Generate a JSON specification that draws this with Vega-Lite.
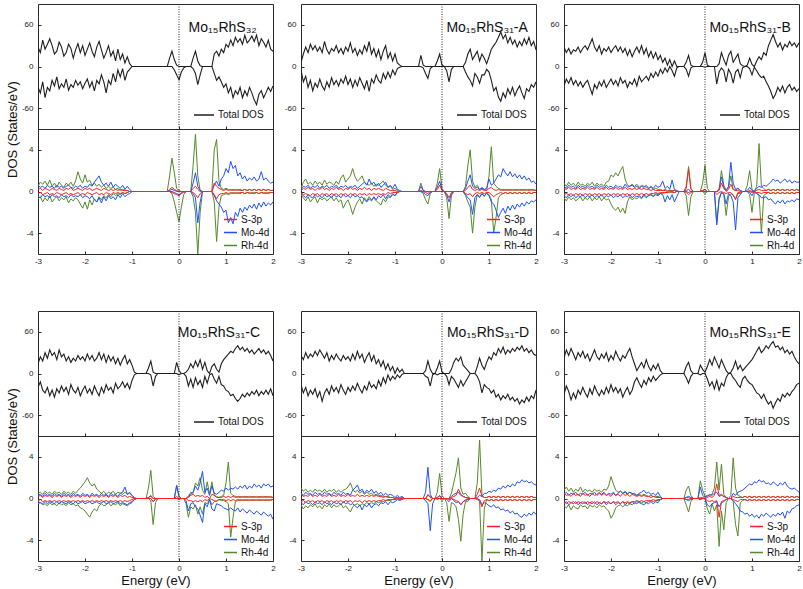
{
"$schema":"https://vega.github.io/schema/vega-lite/v6.json",
"background":"white",
"padding":{"left":5,"top":3,"right":2,"bottom":2},
"config":{
"font":"Liberation Sans",
"view":{"stroke":"#2b2b2b","strokeWidth":1},
"axis":{"domain":false,"grid":false,"tickSize":-3,"tickColor":"#2b2b2b","labelFontSize":8,"labelColor":"#222","labelFlush":false,"labelOverlap":false,"titleFontWeight":"normal","titleFontSize":13,"titleColor":"#111"},
"axisX":{"labelPadding":6},
"axisY":{"labelPadding":8},
"legend":{"labelFontSize":10,"labelColor":"#111","symbolType":"stroke","symbolStrokeWidth":1.5,"padding":0,"rowPadding":0,"labelOffset":3},
"rule":{"strokeDash":[1,1.5],"color":"#222"},
"text":{"fontSize":14,"align":"center","color":"#111"}
},
"datasets":{
"c32":[
{"e":-3,"tu":28,"td":-30,"su":0.2,"sd":-0.2,"mu":0.6,"md":-0.5,"ru":0.5,"rd":-0.7},
{"e":-2.95,"tu":20,"td":-38,"su":0.3,"sd":-0.1,"mu":0.4,"md":-0.6,"ru":0.9,"rd":-0.5},
{"e":-2.9,"tu":38,"td":-22,"su":0.1,"sd":-0.3,"mu":0.5,"md":-0.3,"ru":0.7,"rd":-1},
{"e":-2.85,"tu":25,"td":-45,"su":0.3,"sd":-0.2,"mu":0.3,"md":-0.5,"ru":1,"rd":-0.6},
{"e":-2.8,"tu":32,"td":-30,"su":0.2,"sd":-0.1,"mu":0.6,"md":-0.4,"ru":0.6,"rd":-0.9},
{"e":-2.75,"tu":40,"td":-35,"su":0.1,"sd":-0.3,"mu":0.4,"md":-0.6,"ru":1.1,"rd":-0.4},
{"e":-2.7,"tu":30,"td":-20,"su":0.3,"sd":-0.2,"mu":0.5,"md":-0.3,"ru":0.5,"rd":-1},
{"e":-2.65,"tu":18,"td":-28,"su":0.2,"sd":-0.3,"mu":0.3,"md":-0.5,"ru":0.8,"rd":-0.7},
{"e":-2.6,"tu":22,"td":-15,"su":0.1,"sd":-0.1,"mu":0.6,"md":-0.4,"ru":0.4,"rd":-0.5},
{"e":-2.55,"tu":35,"td":-32,"su":0.3,"sd":-0.2,"mu":0.4,"md":-0.6,"ru":0.9,"rd":-0.9},
{"e":-2.5,"tu":28,"td":-25,"su":0.2,"sd":-0.3,"mu":0.5,"md":-0.3,"ru":0.6,"rd":-0.6},
{"e":-2.45,"tu":15,"td":-30,"su":0.1,"sd":-0.2,"mu":0.3,"md":-0.5,"ru":0.4,"rd":-0.8},
{"e":-2.4,"tu":20,"td":-18,"su":0.3,"sd":-0.1,"mu":0.5,"md":-0.4,"ru":0.8,"rd":-0.5},
{"e":-2.35,"tu":32,"td":-34,"su":0.2,"sd":-0.3,"mu":0.6,"md":-0.6,"ru":0.6,"rd":-1.1},
{"e":-2.3,"tu":26,"td":-26,"su":0.4,"sd":-0.2,"mu":0.4,"md":-0.3,"ru":0.9,"rd":-0.7},
{"e":-2.25,"tu":12,"td":-30,"su":0.1,"sd":-0.3,"mu":0.3,"md":-0.5,"ru":0.5,"rd":-0.9},
{"e":-2.2,"tu":24,"td":-20,"su":0.2,"sd":-0.2,"mu":0.5,"md":-0.4,"ru":1,"rd":-0.6},
{"e":-2.15,"tu":33,"td":-27,"su":0.3,"sd":-0.1,"mu":0.4,"md":-0.5,"ru":1.9,"rd":-0.8},
{"e":-2.1,"tu":20,"td":-22,"su":0.2,"sd":-0.3,"mu":0.6,"md":-0.3,"ru":1.2,"rd":-1.2},
{"e":-2.05,"tu":30,"td":-32,"su":0.1,"sd":-0.2,"mu":0.3,"md":-0.6,"ru":0.8,"rd":-1.6},
{"e":-2,"tu":16,"td":-24,"su":0.3,"sd":-0.3,"mu":0.5,"md":-0.4,"ru":1.6,"rd":-1},
{"e":-1.95,"tu":25,"td":-18,"su":0.2,"sd":-0.1,"mu":0.4,"md":-0.5,"ru":0.9,"rd":-1.7},
{"e":-1.9,"tu":34,"td":-30,"su":0.3,"sd":-0.2,"mu":0.7,"md":-0.7,"ru":1.1,"rd":-0.8},
{"e":-1.85,"tu":22,"td":-22,"su":0.1,"sd":-0.3,"mu":0.5,"md":-0.4,"ru":0.6,"rd":-1.3},
{"e":-1.8,"tu":14,"td":-35,"su":0.2,"sd":-0.2,"mu":0.9,"md":-0.8,"ru":0.8,"rd":-0.7},
{"e":-1.75,"tu":28,"td":-20,"su":0.3,"sd":-0.1,"mu":1.2,"md":-1,"ru":0.5,"rd":-1},
{"e":-1.7,"tu":36,"td":-25,"su":0.2,"sd":-0.3,"mu":1.5,"md":-0.6,"ru":0.7,"rd":-0.5},
{"e":-1.65,"tu":24,"td":-12,"su":0.1,"sd":-0.2,"mu":0.9,"md":-1.1,"ru":0.4,"rd":-0.8},
{"e":-1.6,"tu":12,"td":-22,"su":0.3,"sd":-0.3,"mu":0.6,"md":-0.5,"ru":0.6,"rd":-0.4},
{"e":-1.55,"tu":20,"td":-38,"su":0.2,"sd":-0.1,"mu":0.8,"md":-0.9,"ru":0.3,"rd":-0.6},
{"e":-1.5,"tu":30,"td":-20,"su":0.1,"sd":-0.2,"mu":0.5,"md":-0.4,"ru":0.5,"rd":-0.3},
{"e":-1.45,"tu":15,"td":-26,"su":0.2,"sd":-0.3,"mu":0.9,"md":-0.7,"ru":0.3,"rd":-0.5},
{"e":-1.4,"tu":22,"td":-10,"su":0.1,"sd":-0.1,"mu":0.4,"md":-0.5,"ru":0.4,"rd":-0.2},
{"e":-1.35,"tu":8,"td":-22,"su":0.2,"sd":-0.2,"mu":0.7,"md":-0.8,"ru":0.2,"rd":-0.4},
{"e":-1.3,"tu":25,"td":-5,"su":0.1,"sd":-0.1,"mu":0.5,"md":-0.3,"ru":0.3,"rd":-0.2},
{"e":-1.25,"tu":10,"td":-15,"su":0.2,"sd":-0.2,"mu":0.3,"md":-0.6,"ru":0.1,"rd":-0.3},
{"e":-1.2,"tu":18,"td":-3,"su":0.1,"sd":-0.1,"mu":0.6,"md":-0.2,"ru":0.2,"rd":-0.1},
{"e":-1.15,"tu":5,"td":-20,"su":0.1,"sd":-0.2,"mu":0.2,"md":-0.5,"ru":0.1,"rd":-0.2},
{"e":-1.1,"tu":14,"td":-8,"su":0.1,"sd":-0.1,"mu":0.5,"md":-0.3,"ru":0.1,"rd":-0.1},
{"e":-1.05,"tu":4,"td":-4,"su":0,"sd":0,"mu":0.2,"md":-0.2,"ru":0,"rd":0},
{"e":-1,"tu":0,"td":0,"su":0,"sd":0,"mu":0,"md":0,"ru":0,"rd":0},
{"e":-0.25,"tu":0,"td":0,"su":0,"sd":0,"mu":0,"md":0,"ru":0,"rd":0},
{"e":-0.2,"tu":12,"td":0,"su":0.2,"sd":0,"mu":0.1,"md":0,"ru":1.5,"rd":0},
{"e":-0.15,"tu":22,"td":0,"su":0.4,"sd":-0.1,"mu":0.2,"md":0,"ru":3.2,"rd":-0.2},
{"e":-0.1,"tu":10,"td":-5,"su":0.2,"sd":-0.2,"mu":0.1,"md":-0.1,"ru":1.8,"rd":-1},
{"e":-0.05,"tu":2,"td":-12,"su":0.1,"sd":-0.3,"mu":0,"md":-0.2,"ru":0.3,"rd":-2},
{"e":0,"tu":0,"td":-19,"su":0,"sd":-0.4,"mu":0,"md":-0.3,"ru":0.1,"rd":-2.9},
{"e":0.05,"tu":0,"td":-8,"su":0,"sd":-0.2,"mu":0,"md":-0.1,"ru":0,"rd":-1.5},
{"e":0.1,"tu":0,"td":-2,"su":0,"sd":-0.1,"mu":0,"md":0,"ru":0,"rd":-0.3},
{"e":0.15,"tu":0,"td":0,"su":0,"sd":0,"mu":0,"md":0,"ru":0,"rd":0},
{"e":0.25,"tu":0,"td":0,"su":0,"sd":0,"mu":0,"md":0,"ru":0,"rd":0},
{"e":0.3,"tu":12,"td":-3,"su":0.3,"sd":-0.1,"mu":0.8,"md":-0.2,"ru":2.5,"rd":-0.5},
{"e":0.35,"tu":22,"td":-10,"su":0.5,"sd":-0.3,"mu":1.8,"md":-0.6,"ru":5.5,"rd":-2},
{"e":0.4,"tu":8,"td":-26,"su":0.2,"sd":-0.6,"mu":0.5,"md":-3,"ru":1.5,"rd":-6},
{"e":0.45,"tu":1,"td":-12,"su":0,"sd":-0.2,"mu":0.1,"md":-1,"ru":0.1,"rd":-2},
{"e":0.5,"tu":0,"td":0,"su":0,"sd":0,"mu":0,"md":0,"ru":0,"rd":0},
{"e":0.7,"tu":0,"td":0,"su":0,"sd":0,"mu":0,"md":0,"ru":0,"rd":0},
{"e":0.75,"tu":18,"td":-10,"su":0.8,"sd":-0.3,"mu":0.6,"md":-0.4,"ru":4,"rd":-1},
{"e":0.8,"tu":22,"td":-20,"su":0.5,"sd":-0.7,"mu":1,"md":-0.9,"ru":5,"rd":-4.8},
{"e":0.85,"tu":15,"td":-15,"su":0.3,"sd":-0.3,"mu":0.5,"md":-1.2,"ru":1,"rd":-1.5},
{"e":0.9,"tu":25,"td":-22,"su":0.2,"sd":-0.2,"mu":1.2,"md":-1.5,"ru":0.3,"rd":-0.4},
{"e":0.95,"tu":20,"td":-30,"su":0.1,"sd":-0.2,"mu":1.5,"md":-2,"ru":0.2,"rd":-0.3},
{"e":1,"tu":32,"td":-25,"su":0.2,"sd":-0.1,"mu":2.2,"md":-1.8,"ru":0.3,"rd":-0.2},
{"e":1.05,"tu":28,"td":-38,"su":0.1,"sd":-0.2,"mu":1.8,"md":-3,"ru":0.2,"rd":-0.3},
{"e":1.1,"tu":38,"td":-30,"su":0.2,"sd":-0.1,"mu":2.9,"md":-2.5,"ru":0.1,"rd":-0.2},
{"e":1.15,"tu":30,"td":-45,"su":0.1,"sd":-0.2,"mu":2.2,"md":-3.1,"ru":0.2,"rd":-0.1},
{"e":1.2,"tu":42,"td":-35,"su":0.2,"sd":-0.1,"mu":2.5,"md":-2,"ru":0.1,"rd":-0.2},
{"e":1.25,"tu":35,"td":-40,"su":0.1,"sd":-0.2,"mu":1.5,"md":-2.4,"ru":0.2,"rd":-0.1},
{"e":1.3,"tu":40,"td":-30,"su":0.2,"sd":-0.1,"mu":1.8,"md":-1.6,"ru":0.1,"rd":-0.2},
{"e":1.35,"tu":32,"td":-45,"su":0.1,"sd":-0.1,"mu":1.2,"md":-2,"ru":0.1,"rd":-0.1},
{"e":1.4,"tu":45,"td":-35,"su":0.2,"sd":-0.2,"mu":1.5,"md":-1.5,"ru":0.2,"rd":-0.2},
{"e":1.45,"tu":34,"td":-42,"su":0.1,"sd":-0.1,"mu":1,"md":-1.8,"ru":0.1,"rd":-0.1},
{"e":1.5,"tu":38,"td":-30,"su":0.2,"sd":-0.2,"mu":1.3,"md":-1.3,"ru":0.2,"rd":-0.1},
{"e":1.55,"tu":44,"td":-38,"su":0.1,"sd":-0.1,"mu":1.1,"md":-1.6,"ru":0.1,"rd":-0.2},
{"e":1.6,"tu":36,"td":-48,"su":0.2,"sd":-0.2,"mu":1.4,"md":-1.2,"ru":0.2,"rd":-0.1},
{"e":1.65,"tu":45,"td":-55,"su":0.1,"sd":-0.1,"mu":1,"md":-1.7,"ru":0.1,"rd":-0.1},
{"e":1.7,"tu":30,"td":-40,"su":0.2,"sd":-0.2,"mu":1.2,"md":-1.1,"ru":0.2,"rd":-0.2},
{"e":1.75,"tu":40,"td":-35,"su":0.1,"sd":-0.1,"mu":1.9,"md":-1.5,"ru":0.1,"rd":-0.1},
{"e":1.8,"tu":35,"td":-45,"su":0.2,"sd":-0.2,"mu":1.1,"md":-1,"ru":0.2,"rd":-0.1},
{"e":1.85,"tu":28,"td":-38,"su":0.1,"sd":-0.1,"mu":1.3,"md":-1.4,"ru":0.1,"rd":-0.2},
{"e":1.9,"tu":38,"td":-30,"su":0.2,"sd":-0.2,"mu":1,"md":-1.1,"ru":0.2,"rd":-0.1},
{"e":1.95,"tu":25,"td":-36,"su":0.1,"sd":-0.1,"mu":0.8,"md":-1.3,"ru":0.1,"rd":-0.1},
{"e":2,"tu":22,"td":-28,"su":0.1,"sd":-0.1,"mu":0.9,"md":-1,"ru":0.1,"rd":-0.1}
],
"A":[
{"e":-3,"tu":6,"td":-5,"su":0.1,"sd":-0.1,"mu":0.2,"md":-0.2,"ru":0.3,"rd":-0.3},
{"e":-2.95,"tu":18,"td":-22,"su":0.3,"sd":-0.3,"mu":0.5,"md":-0.4,"ru":0.9,"rd":-0.6},
{"e":-2.9,"tu":28,"td":-14,"su":0.2,"sd":-0.2,"mu":0.4,"md":-0.6,"ru":1.2,"rd":-0.9},
{"e":-2.85,"tu":20,"td":-30,"su":0.4,"sd":-0.3,"mu":0.6,"md":-0.3,"ru":0.7,"rd":-0.5},
{"e":-2.8,"tu":32,"td":-20,"su":0.2,"sd":-0.4,"mu":0.3,"md":-0.5,"ru":0.9,"rd":-1},
{"e":-2.75,"tu":24,"td":-35,"su":0.3,"sd":-0.2,"mu":0.5,"md":-0.6,"ru":0.6,"rd":-0.7},
{"e":-2.7,"tu":30,"td":-24,"su":0.1,"sd":-0.3,"mu":0.4,"md":-0.3,"ru":1,"rd":-0.5},
{"e":-2.65,"tu":22,"td":-30,"su":0.3,"sd":-0.2,"mu":0.6,"md":-0.5,"ru":0.7,"rd":-1.1},
{"e":-2.6,"tu":28,"td":-18,"su":0.2,"sd":-0.4,"mu":0.3,"md":-0.4,"ru":0.9,"rd":-0.6},
{"e":-2.55,"tu":20,"td":-28,"su":0.4,"sd":-0.2,"mu":0.5,"md":-0.6,"ru":0.6,"rd":-0.8},
{"e":-2.5,"tu":36,"td":-34,"su":0.2,"sd":-0.3,"mu":0.4,"md":-0.3,"ru":1.1,"rd":-0.6},
{"e":-2.45,"tu":24,"td":-22,"su":0.3,"sd":-0.2,"mu":0.6,"md":-0.5,"ru":0.7,"rd":-0.9},
{"e":-2.4,"tu":18,"td":-30,"su":0.1,"sd":-0.4,"mu":0.3,"md":-0.4,"ru":0.9,"rd":-0.7},
{"e":-2.35,"tu":26,"td":-16,"su":0.3,"sd":-0.2,"mu":0.5,"md":-0.6,"ru":0.8,"rd":-0.5},
{"e":-2.3,"tu":22,"td":-26,"su":0.2,"sd":-0.3,"mu":0.4,"md":-0.3,"ru":0.6,"rd":-0.9},
{"e":-2.25,"tu":30,"td":-20,"su":0.4,"sd":-0.2,"mu":0.6,"md":-0.5,"ru":1,"rd":-0.6},
{"e":-2.2,"tu":20,"td":-28,"su":0.2,"sd":-0.4,"mu":0.3,"md":-0.4,"ru":0.7,"rd":-1},
{"e":-2.15,"tu":26,"td":-18,"su":0.3,"sd":-0.2,"mu":0.5,"md":-0.6,"ru":1.3,"rd":-0.8},
{"e":-2.1,"tu":18,"td":-24,"su":0.1,"sd":-0.3,"mu":0.4,"md":-0.3,"ru":1.6,"rd":-1.6},
{"e":-2.05,"tu":28,"td":-14,"su":0.3,"sd":-0.2,"mu":0.6,"md":-0.5,"ru":0.9,"rd":-1.1},
{"e":-2,"tu":22,"td":-26,"su":0.2,"sd":-0.4,"mu":0.3,"md":-0.4,"ru":1.2,"rd":-0.8},
{"e":-1.95,"tu":34,"td":-18,"su":0.4,"sd":-0.2,"mu":0.5,"md":-0.6,"ru":1.5,"rd":-1.4},
{"e":-1.9,"tu":20,"td":-30,"su":0.2,"sd":-0.3,"mu":0.4,"md":-0.3,"ru":2.2,"rd":-2.2},
{"e":-1.85,"tu":26,"td":-20,"su":0.3,"sd":-0.2,"mu":0.6,"md":-0.5,"ru":1.4,"rd":-1.5},
{"e":-1.8,"tu":16,"td":-28,"su":0.1,"sd":-0.4,"mu":0.3,"md":-0.4,"ru":1,"rd":-1},
{"e":-1.75,"tu":24,"td":-16,"su":0.3,"sd":-0.2,"mu":0.5,"md":-0.6,"ru":1.2,"rd":-0.7},
{"e":-1.7,"tu":18,"td":-24,"su":0.2,"sd":-0.3,"mu":0.7,"md":-0.5,"ru":1.5,"rd":-1.2},
{"e":-1.65,"tu":30,"td":-32,"su":0.4,"sd":-0.2,"mu":0.9,"md":-0.8,"ru":0.9,"rd":-0.6},
{"e":-1.6,"tu":22,"td":-20,"su":0.2,"sd":-0.4,"mu":0.6,"md":-1,"ru":0.7,"rd":-0.9},
{"e":-1.55,"tu":36,"td":-36,"su":0.3,"sd":-0.2,"mu":1.2,"md":-0.7,"ru":0.6,"rd":-0.5},
{"e":-1.5,"tu":18,"td":-18,"su":0.1,"sd":-0.3,"mu":0.7,"md":-0.9,"ru":0.8,"rd":-0.8},
{"e":-1.45,"tu":26,"td":-24,"su":0.3,"sd":-0.2,"mu":0.9,"md":-0.5,"ru":0.5,"rd":-0.6},
{"e":-1.4,"tu":14,"td":-12,"su":0.2,"sd":-0.3,"mu":0.5,"md":-0.8,"ru":0.7,"rd":-0.9},
{"e":-1.35,"tu":24,"td":-20,"su":0.3,"sd":-0.2,"mu":0.8,"md":-0.4,"ru":0.6,"rd":-1.1},
{"e":-1.3,"tu":10,"td":-24,"su":0.2,"sd":-0.3,"mu":0.4,"md":-0.6,"ru":0.8,"rd":-1.3},
{"e":-1.25,"tu":22,"td":-10,"su":0.1,"sd":-0.2,"mu":0.6,"md":-0.3,"ru":1,"rd":-0.7},
{"e":-1.2,"tu":30,"td":-18,"su":0.3,"sd":-0.3,"mu":0.9,"md":-0.7,"ru":0.6,"rd":-1},
{"e":-1.15,"tu":12,"td":-8,"su":0.2,"sd":-0.1,"mu":0.4,"md":-0.3,"ru":0.4,"rd":-0.5},
{"e":-1.1,"tu":20,"td":-16,"su":0.1,"sd":-0.2,"mu":0.6,"md":-0.5,"ru":0.5,"rd":-0.6},
{"e":-1.05,"tu":8,"td":-5,"su":0.1,"sd":-0.1,"mu":0.3,"md":-0.2,"ru":0.2,"rd":-0.3},
{"e":-1,"tu":18,"td":-12,"su":0.1,"sd":-0.1,"mu":0.7,"md":-0.4,"ru":0.3,"rd":-0.4},
{"e":-0.95,"tu":5,"td":-3,"su":0,"sd":-0.1,"mu":0.2,"md":-0.1,"ru":0.1,"rd":-0.1},
{"e":-0.9,"tu":2,"td":-1,"su":0,"sd":0,"mu":0.1,"md":0,"ru":0,"rd":0},
{"e":-0.85,"tu":0,"td":0,"su":0,"sd":0,"mu":0,"md":0,"ru":0,"rd":0},
{"e":-0.5,"tu":0,"td":0,"su":0,"sd":0,"mu":0,"md":0,"ru":0,"rd":0},
{"e":-0.45,"tu":16,"td":0,"su":0.1,"sd":0,"mu":0.5,"md":0,"ru":0.8,"rd":0},
{"e":-0.4,"tu":2,"td":-2,"su":0,"sd":0,"mu":0.1,"md":-0.1,"ru":0.1,"rd":-0.2},
{"e":-0.35,"tu":0,"td":-10,"su":0,"sd":-0.1,"mu":0,"md":-0.3,"ru":0,"rd":-0.8},
{"e":-0.3,"tu":0,"td":-17,"su":0,"sd":-0.2,"mu":0,"md":-0.4,"ru":0,"rd":-1.2},
{"e":-0.25,"tu":0,"td":-3,"su":0,"sd":0,"mu":0,"md":-0.1,"ru":0,"rd":-0.2},
{"e":-0.2,"tu":0,"td":0,"su":0,"sd":0,"mu":0,"md":0,"ru":0,"rd":0},
{"e":-0.15,"tu":0,"td":0,"su":0,"sd":0,"mu":0,"md":0,"ru":0,"rd":0},
{"e":-0.1,"tu":8,"td":0,"su":0.2,"sd":0,"mu":0.4,"md":0,"ru":0.8,"rd":0},
{"e":-0.05,"tu":18,"td":0,"su":0.6,"sd":0,"mu":1,"md":0,"ru":2.2,"rd":0},
{"e":0,"tu":2,"td":0,"su":0.1,"sd":0,"mu":0.1,"md":0,"ru":0.3,"rd":0},
{"e":0.05,"tu":0,"td":0,"su":0,"sd":0,"mu":0,"md":0,"ru":0,"rd":0},
{"e":0.1,"tu":0,"td":-6,"su":0,"sd":-0.2,"mu":0,"md":-0.3,"ru":0,"rd":-0.6},
{"e":0.15,"tu":0,"td":-22,"su":0,"sd":-0.6,"mu":0,"md":-1,"ru":0,"rd":-2.6},
{"e":0.2,"tu":0,"td":-4,"su":0,"sd":-0.1,"mu":0,"md":-0.2,"ru":0,"rd":-0.4},
{"e":0.25,"tu":0,"td":0,"su":0,"sd":0,"mu":0,"md":0,"ru":0,"rd":0},
{"e":0.45,"tu":0,"td":0,"su":0,"sd":0,"mu":0,"md":0,"ru":0,"rd":0},
{"e":0.5,"tu":6,"td":-8,"su":0.1,"sd":-0.2,"mu":0.3,"md":-0.3,"ru":0.5,"rd":-0.4},
{"e":0.55,"tu":18,"td":-15,"su":0.4,"sd":-0.3,"mu":1,"md":-0.6,"ru":2.5,"rd":-1},
{"e":0.6,"tu":25,"td":-20,"su":0.6,"sd":-0.2,"mu":1.6,"md":-0.8,"ru":4,"rd":-1.5},
{"e":0.65,"tu":10,"td":-28,"su":0.2,"sd":-0.5,"mu":0.5,"md":-2.2,"ru":1,"rd":-4},
{"e":0.7,"tu":16,"td":-10,"su":0.1,"sd":-0.2,"mu":0.3,"md":-0.6,"ru":0.4,"rd":-1.5},
{"e":0.75,"tu":22,"td":-15,"su":0.2,"sd":-0.1,"mu":0.4,"md":-0.3,"ru":0.6,"rd":-0.3},
{"e":0.8,"tu":8,"td":-24,"su":0.1,"sd":-0.2,"mu":0.2,"md":-0.5,"ru":0.2,"rd":-0.6},
{"e":0.85,"tu":18,"td":-12,"su":0.2,"sd":-0.1,"mu":0.3,"md":-0.2,"ru":0.4,"rd":-0.2},
{"e":0.9,"tu":12,"td":-12,"su":0.1,"sd":-0.2,"mu":0.2,"md":-0.4,"ru":0.2,"rd":-0.5},
{"e":0.95,"tu":4,"td":-4,"su":0.1,"sd":-0.1,"mu":0.3,"md":-0.2,"ru":0.1,"rd":-0.1},
{"e":1,"tu":14,"td":-8,"su":0.3,"sd":-0.1,"mu":1.2,"md":-0.4,"ru":1.5,"rd":-0.3},
{"e":1.05,"tu":25,"td":-20,"su":0.4,"sd":-0.3,"mu":0.6,"md":-1,"ru":4.3,"rd":-0.8},
{"e":1.1,"tu":30,"td":-35,"su":0.2,"sd":-0.5,"mu":0.8,"md":-1.2,"ru":0.8,"rd":-4},
{"e":1.15,"tu":35,"td":-30,"su":0.1,"sd":-0.3,"mu":1.2,"md":-1.8,"ru":0.5,"rd":-2.5},
{"e":1.2,"tu":42,"td":-44,"su":0.2,"sd":-0.2,"mu":1.6,"md":-2.5,"ru":0.3,"rd":-0.6},
{"e":1.25,"tu":50,"td":-50,"su":0.1,"sd":-0.1,"mu":1.4,"md":-2,"ru":0.2,"rd":-0.3},
{"e":1.3,"tu":40,"td":-38,"su":0.2,"sd":-0.2,"mu":2.2,"md":-1.6,"ru":0.1,"rd":-0.2},
{"e":1.35,"tu":46,"td":-45,"su":0.1,"sd":-0.1,"mu":1.8,"md":-2.1,"ru":0.2,"rd":-0.1},
{"e":1.4,"tu":34,"td":-32,"su":0.2,"sd":-0.2,"mu":1.5,"md":-1.4,"ru":0.1,"rd":-0.2},
{"e":1.45,"tu":42,"td":-40,"su":0.1,"sd":-0.1,"mu":1.9,"md":-1.8,"ru":0.2,"rd":-0.1},
{"e":1.5,"tu":32,"td":-30,"su":0.2,"sd":-0.2,"mu":1.4,"md":-1.3,"ru":0.1,"rd":-0.2},
{"e":1.55,"tu":38,"td":-42,"su":0.1,"sd":-0.1,"mu":1.7,"md":-1.7,"ru":0.2,"rd":-0.1},
{"e":1.6,"tu":28,"td":-34,"su":0.2,"sd":-0.2,"mu":1.3,"md":-1.2,"ru":0.1,"rd":-0.2},
{"e":1.65,"tu":36,"td":-28,"su":0.1,"sd":-0.1,"mu":1.6,"md":-1.5,"ru":0.2,"rd":-0.1},
{"e":1.7,"tu":30,"td":-38,"su":0.2,"sd":-0.2,"mu":1.2,"md":-1.1,"ru":0.1,"rd":-0.2},
{"e":1.75,"tu":40,"td":-46,"su":0.1,"sd":-0.1,"mu":1.5,"md":-1.4,"ru":0.2,"rd":-0.1},
{"e":1.8,"tu":32,"td":-32,"su":0.2,"sd":-0.2,"mu":1.1,"md":-1,"ru":0.1,"rd":-0.2},
{"e":1.85,"tu":42,"td":-36,"su":0.1,"sd":-0.1,"mu":1.3,"md":-1.2,"ru":0.2,"rd":-0.1},
{"e":1.9,"tu":30,"td":-26,"su":0.2,"sd":-0.2,"mu":0.9,"md":-0.9,"ru":0.1,"rd":-0.2},
{"e":1.95,"tu":36,"td":-30,"su":0.1,"sd":-0.1,"mu":1,"md":-1,"ru":0.2,"rd":-0.1},
{"e":2,"tu":24,"td":-22,"su":0.1,"sd":-0.1,"mu":0.7,"md":-0.8,"ru":0.1,"rd":-0.1}
],
"B":[
{"e":-3,"tu":28,"td":-28,"su":0.3,"sd":-0.3,"mu":0.5,"md":-0.4,"ru":0.8,"rd":-0.6},
{"e":-2.95,"tu":20,"td":-18,"su":0.2,"sd":-0.2,"mu":0.3,"md":-0.6,"ru":0.5,"rd":-0.9},
{"e":-2.9,"tu":26,"td":-24,"su":0.4,"sd":-0.3,"mu":0.6,"md":-0.3,"ru":0.9,"rd":-0.5},
{"e":-2.85,"tu":18,"td":-16,"su":0.2,"sd":-0.2,"mu":0.4,"md":-0.5,"ru":0.6,"rd":-0.8},
{"e":-2.8,"tu":24,"td":-26,"su":0.3,"sd":-0.4,"mu":0.5,"md":-0.3,"ru":0.8,"rd":-0.6},
{"e":-2.75,"tu":22,"td":-20,"su":0.2,"sd":-0.2,"mu":0.3,"md":-0.6,"ru":0.5,"rd":-0.9},
{"e":-2.7,"tu":28,"td":-28,"su":0.4,"sd":-0.3,"mu":0.6,"md":-0.4,"ru":0.9,"rd":-0.7},
{"e":-2.65,"tu":20,"td":-22,"su":0.2,"sd":-0.2,"mu":0.4,"md":-0.5,"ru":0.6,"rd":-0.5},
{"e":-2.6,"tu":26,"td":-30,"su":0.3,"sd":-0.4,"mu":0.5,"md":-0.3,"ru":0.7,"rd":-0.9},
{"e":-2.55,"tu":30,"td":-24,"su":0.2,"sd":-0.2,"mu":0.3,"md":-0.6,"ru":0.5,"rd":-0.6},
{"e":-2.5,"tu":24,"td":-20,"su":0.4,"sd":-0.3,"mu":0.6,"md":-0.4,"ru":0.8,"rd":-0.8},
{"e":-2.45,"tu":32,"td":-30,"su":0.2,"sd":-0.2,"mu":0.4,"md":-0.5,"ru":0.6,"rd":-0.5},
{"e":-2.4,"tu":40,"td":-40,"su":0.3,"sd":-0.4,"mu":0.5,"md":-0.3,"ru":0.9,"rd":-0.9},
{"e":-2.35,"tu":28,"td":-26,"su":0.2,"sd":-0.2,"mu":0.3,"md":-0.6,"ru":0.5,"rd":-0.6},
{"e":-2.3,"tu":22,"td":-32,"su":0.4,"sd":-0.3,"mu":0.6,"md":-0.4,"ru":0.8,"rd":-0.8},
{"e":-2.25,"tu":30,"td":-22,"su":0.2,"sd":-0.2,"mu":0.4,"md":-0.5,"ru":0.6,"rd":-0.5},
{"e":-2.2,"tu":18,"td":-28,"su":0.3,"sd":-0.4,"mu":0.5,"md":-0.3,"ru":0.7,"rd":-0.9},
{"e":-2.15,"tu":26,"td":-20,"su":0.2,"sd":-0.2,"mu":0.3,"md":-0.6,"ru":0.5,"rd":-0.6},
{"e":-2.1,"tu":22,"td":-30,"su":0.4,"sd":-0.3,"mu":0.6,"md":-0.4,"ru":0.9,"rd":-0.8},
{"e":-2.05,"tu":28,"td":-24,"su":0.2,"sd":-0.2,"mu":0.4,"md":-0.5,"ru":1,"rd":-0.7},
{"e":-2,"tu":20,"td":-18,"su":0.3,"sd":-0.4,"mu":0.5,"md":-0.3,"ru":1.6,"rd":-1.2},
{"e":-1.95,"tu":26,"td":-26,"su":0.2,"sd":-0.2,"mu":0.3,"md":-0.6,"ru":1.4,"rd":-1.6},
{"e":-1.9,"tu":30,"td":-20,"su":0.4,"sd":-0.3,"mu":0.6,"md":-0.4,"ru":1.8,"rd":-1.8},
{"e":-1.85,"tu":22,"td":-28,"su":0.2,"sd":-0.2,"mu":0.4,"md":-0.5,"ru":1.5,"rd":-1.5},
{"e":-1.8,"tu":28,"td":-16,"su":0.3,"sd":-0.4,"mu":0.5,"md":-0.3,"ru":2,"rd":-2},
{"e":-1.75,"tu":20,"td":-24,"su":0.2,"sd":-0.2,"mu":0.3,"md":-0.6,"ru":2.4,"rd":-1.6},
{"e":-1.7,"tu":26,"td":-20,"su":0.4,"sd":-0.3,"mu":0.7,"md":-0.4,"ru":1.2,"rd":-2.1},
{"e":-1.65,"tu":16,"td":-30,"su":0.2,"sd":-0.2,"mu":0.4,"md":-0.5,"ru":0.6,"rd":-1},
{"e":-1.6,"tu":24,"td":-22,"su":0.3,"sd":-0.4,"mu":0.5,"md":-0.3,"ru":0.5,"rd":-0.5},
{"e":-1.55,"tu":14,"td":-26,"su":0.2,"sd":-0.2,"mu":0.6,"md":-0.6,"ru":0.7,"rd":-0.8},
{"e":-1.5,"tu":22,"td":-18,"su":0.3,"sd":-0.3,"mu":0.4,"md":-0.4,"ru":0.5,"rd":-0.6},
{"e":-1.45,"tu":28,"td":-28,"su":0.2,"sd":-0.2,"mu":0.5,"md":-0.5,"ru":0.7,"rd":-0.7},
{"e":-1.4,"tu":20,"td":-14,"su":0.3,"sd":-0.3,"mu":0.3,"md":-0.4,"ru":0.4,"rd":-0.5},
{"e":-1.35,"tu":30,"td":-22,"su":0.2,"sd":-0.2,"mu":0.5,"md":-0.6,"ru":0.6,"rd":-0.7},
{"e":-1.3,"tu":18,"td":-18,"su":0.3,"sd":-0.3,"mu":0.4,"md":-0.3,"ru":0.5,"rd":-0.4},
{"e":-1.25,"tu":26,"td":-14,"su":0.2,"sd":-0.2,"mu":0.6,"md":-0.5,"ru":0.4,"rd":-0.6},
{"e":-1.2,"tu":14,"td":-20,"su":0.2,"sd":-0.3,"mu":0.3,"md":-0.4,"ru":0.3,"rd":-0.4},
{"e":-1.15,"tu":22,"td":-10,"su":0.1,"sd":-0.2,"mu":0.5,"md":-0.3,"ru":0.4,"rd":-0.3},
{"e":-1.1,"tu":12,"td":-16,"su":0.2,"sd":-0.2,"mu":0.3,"md":-0.5,"ru":0.2,"rd":-0.4},
{"e":-1.05,"tu":20,"td":-8,"su":0.1,"sd":-0.1,"mu":0.6,"md":-0.3,"ru":0.3,"rd":-0.2},
{"e":-1,"tu":10,"td":-14,"su":0.1,"sd":-0.2,"mu":0.4,"md":-0.4,"ru":0.2,"rd":-0.3},
{"e":-0.95,"tu":16,"td":-4,"su":0.1,"sd":-0.1,"mu":0.5,"md":-0.2,"ru":0.2,"rd":-0.2},
{"e":-0.9,"tu":6,"td":-10,"su":0.1,"sd":-0.1,"mu":1,"md":-0.3,"ru":0.1,"rd":-0.2},
{"e":-0.85,"tu":12,"td":-2,"su":0.1,"sd":-0.1,"mu":0.3,"md":-1,"ru":0.2,"rd":-0.1},
{"e":-0.8,"tu":2,"td":-8,"su":0,"sd":-0.1,"mu":0.5,"md":-0.4,"ru":0.1,"rd":-0.1},
{"e":-0.75,"tu":10,"td":0,"su":0.1,"sd":0,"mu":0.2,"md":-0.8,"ru":0.1,"rd":-0.1},
{"e":-0.7,"tu":0,"td":-6,"su":0,"sd":-0.1,"mu":1.1,"md":-0.3,"ru":0.1,"rd":0},
{"e":-0.65,"tu":8,"td":-14,"su":0.1,"sd":-0.1,"mu":0.2,"md":-1,"ru":0.1,"rd":-0.1},
{"e":-0.6,"tu":0,"td":-2,"su":0,"sd":0,"mu":0.1,"md":-0.5,"ru":0,"rd":0},
{"e":-0.55,"tu":0,"td":0,"su":0,"sd":0,"mu":0,"md":0,"ru":0,"rd":0},
{"e":-0.45,"tu":0,"td":0,"su":0,"sd":0,"mu":0,"md":0,"ru":0,"rd":0},
{"e":-0.4,"tu":6,"td":-4,"su":0.3,"sd":-0.1,"mu":0.1,"md":0,"ru":0.5,"rd":-0.4},
{"e":-0.35,"tu":16,"td":-14,"su":2.1,"sd":-0.3,"mu":0.2,"md":-0.1,"ru":2.4,"rd":-2.3},
{"e":-0.3,"tu":2,"td":-2,"su":0.2,"sd":-0.1,"mu":0,"md":0,"ru":0.3,"rd":-0.5},
{"e":-0.25,"tu":0,"td":0,"su":0,"sd":0,"mu":0,"md":0,"ru":0,"rd":0},
{"e":-0.1,"tu":0,"td":0,"su":0,"sd":0,"mu":0,"md":0,"ru":0,"rd":0},
{"e":-0.05,"tu":6,"td":0,"su":0.1,"sd":0,"mu":0.1,"md":0,"ru":0.8,"rd":0},
{"e":0,"tu":20,"td":-1,"su":0.2,"sd":0,"mu":0.2,"md":0,"ru":2.5,"rd":-0.2},
{"e":0.05,"tu":2,"td":0,"su":0,"sd":0,"mu":0,"md":0,"ru":0.3,"rd":0},
{"e":0.1,"tu":0,"td":0,"su":0,"sd":0,"mu":0,"md":0,"ru":0,"rd":0},
{"e":0.2,"tu":0,"td":0,"su":0,"sd":0,"mu":0,"md":0,"ru":0,"rd":0},
{"e":0.25,"tu":0,"td":-25,"su":0,"sd":-0.3,"mu":0,"md":-3.2,"ru":0,"rd":-3},
{"e":0.3,"tu":4,"td":-8,"su":0.1,"sd":-0.1,"mu":0.2,"md":-0.8,"ru":0.2,"rd":-0.6},
{"e":0.35,"tu":20,"td":-2,"su":0.8,"sd":0,"mu":1.4,"md":-0.1,"ru":2,"rd":-0.1},
{"e":0.4,"tu":10,"td":-6,"su":0.3,"sd":-0.1,"mu":0.4,"md":-0.2,"ru":0.6,"rd":-0.3},
{"e":0.45,"tu":2,"td":-22,"su":0,"sd":-0.2,"mu":0.1,"md":-1.2,"ru":0.1,"rd":-2.3},
{"e":0.5,"tu":16,"td":-4,"su":0.2,"sd":-0.1,"mu":0.5,"md":-0.2,"ru":0.4,"rd":-0.5},
{"e":0.55,"tu":22,"td":-10,"su":0.7,"sd":-0.1,"mu":2.8,"md":-0.4,"ru":1.5,"rd":-0.2},
{"e":0.6,"tu":6,"td":-24,"su":0.2,"sd":-0.4,"mu":0.8,"md":-1,"ru":0.2,"rd":-0.3},
{"e":0.65,"tu":12,"td":-8,"su":0.1,"sd":-0.7,"mu":0.2,"md":-3.7,"ru":0.1,"rd":-0.8},
{"e":0.7,"tu":18,"td":-4,"su":0.1,"sd":-0.1,"mu":0.3,"md":-0.6,"ru":0.3,"rd":-0.2},
{"e":0.75,"tu":4,"td":-16,"su":0,"sd":-0.1,"mu":0.1,"md":-0.3,"ru":0.1,"rd":-0.2},
{"e":0.8,"tu":1,"td":-2,"su":0,"sd":0,"mu":0,"md":0,"ru":0,"rd":0},
{"e":0.85,"tu":0,"td":0,"su":0,"sd":0,"mu":0,"md":0,"ru":0,"rd":0},
{"e":0.9,"tu":2,"td":0,"su":0,"sd":0,"mu":0.1,"md":0,"ru":0.6,"rd":0},
{"e":0.95,"tu":12,"td":-3,"su":0.1,"sd":0,"mu":0.4,"md":-0.1,"ru":2,"rd":-0.3},
{"e":1,"tu":3,"td":-12,"su":0,"sd":-0.1,"mu":0.1,"md":-0.4,"ru":0.2,"rd":-2},
{"e":1.05,"tu":0,"td":-1,"su":0,"sd":0,"mu":0,"md":0,"ru":0,"rd":-0.1},
{"e":1.1,"tu":8,"td":-6,"su":0.1,"sd":-0.1,"mu":0.3,"md":-0.2,"ru":0.5,"rd":-0.2},
{"e":1.15,"tu":14,"td":-12,"su":0.2,"sd":-0.1,"mu":0.5,"md":-0.3,"ru":4.6,"rd":-0.4},
{"e":1.2,"tu":10,"td":-16,"su":0.1,"sd":-0.2,"mu":0.4,"md":-0.6,"ru":0.5,"rd":-4},
{"e":1.25,"tu":20,"td":-14,"su":0.1,"sd":-0.1,"mu":0.6,"md":-0.6,"ru":0.3,"rd":-0.4},
{"e":1.3,"tu":16,"td":-22,"su":0.1,"sd":-0.1,"mu":0.5,"md":-0.5,"ru":0.1,"rd":-0.2},
{"e":1.35,"tu":30,"td":-28,"su":0.2,"sd":-0.1,"mu":0.7,"md":-0.8,"ru":0.2,"rd":-0.1},
{"e":1.4,"tu":38,"td":-36,"su":0.1,"sd":-0.2,"mu":0.9,"md":-0.7,"ru":0.1,"rd":-0.2},
{"e":1.45,"tu":46,"td":-46,"su":0.2,"sd":-0.1,"mu":1.2,"md":-1,"ru":0.2,"rd":-0.1},
{"e":1.5,"tu":36,"td":-40,"su":0.1,"sd":-0.2,"mu":1,"md":-1.2,"ru":0.1,"rd":-0.2},
{"e":1.55,"tu":28,"td":-30,"su":0.2,"sd":-0.1,"mu":1.1,"md":-0.9,"ru":0.2,"rd":-0.1},
{"e":1.6,"tu":34,"td":-36,"su":0.1,"sd":-0.2,"mu":0.8,"md":-1.1,"ru":0.1,"rd":-0.2},
{"e":1.65,"tu":24,"td":-28,"su":0.2,"sd":-0.1,"mu":1,"md":-0.8,"ru":0.2,"rd":-0.1},
{"e":1.7,"tu":32,"td":-38,"su":0.1,"sd":-0.2,"mu":1.2,"md":-1.2,"ru":0.1,"rd":-0.2},
{"e":1.75,"tu":28,"td":-30,"su":0.2,"sd":-0.1,"mu":0.9,"md":-0.9,"ru":0.2,"rd":-0.1},
{"e":1.8,"tu":36,"td":-26,"su":0.1,"sd":-0.2,"mu":1.1,"md":-1,"ru":0.1,"rd":-0.2},
{"e":1.85,"tu":30,"td":-34,"su":0.2,"sd":-0.1,"mu":0.8,"md":-0.8,"ru":0.2,"rd":-0.1},
{"e":1.9,"tu":34,"td":-30,"su":0.1,"sd":-0.2,"mu":1,"md":-1,"ru":0.1,"rd":-0.2},
{"e":1.95,"tu":28,"td":-36,"su":0.2,"sd":-0.1,"mu":0.9,"md":-0.7,"ru":0.2,"rd":-0.1},
{"e":2,"tu":34,"td":-32,"su":0.1,"sd":-0.1,"mu":0.9,"md":-0.8,"ru":0.1,"rd":-0.1}
],
"C":[
{"e":-3,"tu":14,"td":-20,"su":0.2,"sd":-0.2,"mu":0.3,"md":-0.3,"ru":0.5,"rd":-0.5},
{"e":-2.95,"tu":24,"td":-12,"su":0.3,"sd":-0.1,"mu":0.4,"md":-0.4,"ru":0.6,"rd":-0.4},
{"e":-2.9,"tu":18,"td":-24,"su":0.1,"sd":-0.3,"mu":0.2,"md":-0.5,"ru":0.4,"rd":-0.6},
{"e":-2.85,"tu":30,"td":-28,"su":0.3,"sd":-0.2,"mu":0.5,"md":-0.3,"ru":0.7,"rd":-0.5},
{"e":-2.8,"tu":22,"td":-20,"su":0.2,"sd":-0.3,"mu":0.3,"md":-0.5,"ru":0.5,"rd":-0.7},
{"e":-2.75,"tu":34,"td":-32,"su":0.3,"sd":-0.2,"mu":0.4,"md":-0.3,"ru":0.6,"rd":-0.4},
{"e":-2.7,"tu":26,"td":-24,"su":0.1,"sd":-0.3,"mu":0.2,"md":-0.4,"ru":0.4,"rd":-0.6},
{"e":-2.65,"tu":30,"td":-34,"su":0.3,"sd":-0.2,"mu":0.5,"md":-0.5,"ru":0.7,"rd":-0.5},
{"e":-2.6,"tu":20,"td":-22,"su":0.2,"sd":-0.3,"mu":0.3,"md":-0.3,"ru":0.5,"rd":-0.7},
{"e":-2.55,"tu":34,"td":-28,"su":0.3,"sd":-0.2,"mu":0.4,"md":-0.5,"ru":0.6,"rd":-0.4},
{"e":-2.5,"tu":24,"td":-18,"su":0.1,"sd":-0.3,"mu":0.2,"md":-0.3,"ru":0.4,"rd":-0.6},
{"e":-2.45,"tu":28,"td":-26,"su":0.3,"sd":-0.2,"mu":0.5,"md":-0.4,"ru":0.7,"rd":-0.5},
{"e":-2.4,"tu":18,"td":-20,"su":0.2,"sd":-0.3,"mu":0.3,"md":-0.5,"ru":0.5,"rd":-0.7},
{"e":-2.35,"tu":24,"td":-30,"su":0.3,"sd":-0.2,"mu":0.4,"md":-0.3,"ru":0.6,"rd":-0.4},
{"e":-2.3,"tu":16,"td":-16,"su":0.1,"sd":-0.3,"mu":0.2,"md":-0.4,"ru":0.4,"rd":-0.6},
{"e":-2.25,"tu":22,"td":-24,"su":0.3,"sd":-0.2,"mu":0.5,"md":-0.5,"ru":0.7,"rd":-0.5},
{"e":-2.2,"tu":18,"td":-28,"su":0.2,"sd":-0.3,"mu":0.3,"md":-0.3,"ru":0.5,"rd":-0.7},
{"e":-2.15,"tu":26,"td":-20,"su":0.3,"sd":-0.2,"mu":0.4,"md":-0.5,"ru":0.8,"rd":-0.6},
{"e":-2.1,"tu":20,"td":-32,"su":0.1,"sd":-0.3,"mu":0.2,"md":-0.4,"ru":1,"rd":-0.9},
{"e":-2.05,"tu":24,"td":-24,"su":0.3,"sd":-0.2,"mu":0.5,"md":-0.3,"ru":1.3,"rd":-1},
{"e":-2,"tu":18,"td":-18,"su":0.2,"sd":-0.3,"mu":0.3,"md":-0.5,"ru":1.6,"rd":-1.2},
{"e":-1.95,"tu":28,"td":-28,"su":0.3,"sd":-0.2,"mu":0.4,"md":-0.4,"ru":2,"rd":-1.5},
{"e":-1.9,"tu":20,"td":-22,"su":0.1,"sd":-0.3,"mu":0.2,"md":-0.3,"ru":1.5,"rd":-1.8},
{"e":-1.85,"tu":26,"td":-30,"su":0.3,"sd":-0.2,"mu":0.5,"md":-0.5,"ru":1.2,"rd":-1.3},
{"e":-1.8,"tu":18,"td":-18,"su":0.2,"sd":-0.3,"mu":0.3,"md":-0.4,"ru":1.4,"rd":-1},
{"e":-1.75,"tu":22,"td":-26,"su":0.3,"sd":-0.2,"mu":0.4,"md":-0.3,"ru":0.9,"rd":-1.2},
{"e":-1.7,"tu":30,"td":-32,"su":0.1,"sd":-0.3,"mu":0.2,"md":-0.5,"ru":0.7,"rd":-0.7},
{"e":-1.65,"tu":20,"td":-20,"su":0.3,"sd":-0.2,"mu":0.5,"md":-0.4,"ru":0.5,"rd":-0.5},
{"e":-1.6,"tu":28,"td":-28,"su":0.2,"sd":-0.3,"mu":0.3,"md":-0.3,"ru":0.7,"rd":-0.7},
{"e":-1.55,"tu":16,"td":-16,"su":0.3,"sd":-0.2,"mu":0.4,"md":-0.5,"ru":0.4,"rd":-0.6},
{"e":-1.5,"tu":26,"td":-24,"su":0.1,"sd":-0.3,"mu":0.2,"md":-0.4,"ru":0.6,"rd":-0.4},
{"e":-1.45,"tu":18,"td":-20,"su":0.3,"sd":-0.2,"mu":0.5,"md":-0.3,"ru":0.5,"rd":-0.7},
{"e":-1.4,"tu":24,"td":-28,"su":0.2,"sd":-0.3,"mu":0.3,"md":-0.5,"ru":0.7,"rd":-0.5},
{"e":-1.35,"tu":14,"td":-14,"su":0.3,"sd":-0.2,"mu":0.4,"md":-0.4,"ru":0.4,"rd":-0.6},
{"e":-1.3,"tu":22,"td":-22,"su":0.1,"sd":-0.3,"mu":0.2,"md":-0.3,"ru":0.6,"rd":-0.4},
{"e":-1.25,"tu":12,"td":-18,"su":0.3,"sd":-0.2,"mu":0.5,"md":-0.5,"ru":0.5,"rd":-0.7},
{"e":-1.2,"tu":20,"td":-12,"su":0.2,"sd":-0.3,"mu":0.6,"md":-0.4,"ru":0.4,"rd":-0.5},
{"e":-1.15,"tu":26,"td":-20,"su":0.3,"sd":-0.2,"mu":1.1,"md":-0.5,"ru":0.6,"rd":-0.6},
{"e":-1.1,"tu":14,"td":-14,"su":0.1,"sd":-0.3,"mu":0.4,"md":-0.6,"ru":0.4,"rd":-0.7},
{"e":-1.05,"tu":20,"td":-22,"su":0.2,"sd":-0.2,"mu":0.6,"md":-0.4,"ru":0.5,"rd":-0.5},
{"e":-1,"tu":12,"td":-10,"su":0.1,"sd":-0.1,"mu":0.3,"md":-0.3,"ru":0.3,"rd":-0.4},
{"e":-0.95,"tu":2,"td":-2,"su":0,"sd":0,"mu":0.1,"md":-0.1,"ru":0,"rd":-0.1},
{"e":-0.9,"tu":0,"td":0,"su":0,"sd":0,"mu":0,"md":0,"ru":0,"rd":0},
{"e":-0.7,"tu":0,"td":0,"su":0,"sd":0,"mu":0,"md":0,"ru":0,"rd":0},
{"e":-0.65,"tu":8,"td":0,"su":0.1,"sd":0,"mu":0.1,"md":0,"ru":1,"rd":0},
{"e":-0.6,"tu":18,"td":-2,"su":0.3,"sd":0,"mu":0.2,"md":0,"ru":2.7,"rd":-0.2},
{"e":-0.55,"tu":2,"td":-18,"su":0,"sd":-0.3,"mu":0,"md":-0.3,"ru":0.2,"rd":-2.5},
{"e":-0.5,"tu":0,"td":-4,"su":0,"sd":0,"mu":0,"md":-0.1,"ru":0,"rd":-0.4},
{"e":-0.45,"tu":0,"td":0,"su":0,"sd":0,"mu":0,"md":0,"ru":0,"rd":0},
{"e":-0.1,"tu":0,"td":0,"su":0,"sd":0,"mu":0,"md":0,"ru":0,"rd":0},
{"e":-0.05,"tu":16,"td":0,"su":0.2,"sd":0,"mu":1.2,"md":0,"ru":1.3,"rd":0},
{"e":0,"tu":4,"td":-2,"su":0,"sd":0,"mu":0.2,"md":0,"ru":0.2,"rd":-0.1},
{"e":0.05,"tu":0,"td":0,"su":0,"sd":0,"mu":0,"md":0,"ru":0,"rd":0},
{"e":0.1,"tu":0,"td":0,"su":0,"sd":0,"mu":0,"md":0,"ru":0,"rd":0},
{"e":0.15,"tu":2,"td":-4,"su":0,"sd":0,"mu":0,"md":-0.2,"ru":0,"rd":-0.5},
{"e":0.2,"tu":6,"td":-18,"su":0.1,"sd":-0.2,"mu":0.2,"md":-1.2,"ru":0.2,"rd":-1.8},
{"e":0.25,"tu":14,"td":-8,"su":0.3,"sd":-0.2,"mu":0.4,"md":-0.5,"ru":0.6,"rd":-0.8},
{"e":0.3,"tu":8,"td":-20,"su":0.4,"sd":-0.3,"mu":0.6,"md":-0.4,"ru":0.5,"rd":-1},
{"e":0.35,"tu":18,"td":-6,"su":0.2,"sd":-0.2,"mu":1.2,"md":-0.8,"ru":1.5,"rd":-0.6},
{"e":0.4,"tu":10,"td":-16,"su":0.3,"sd":-0.3,"mu":0.8,"md":-1,"ru":1.2,"rd":-1.5},
{"e":0.45,"tu":20,"td":-10,"su":0.2,"sd":-0.2,"mu":1.5,"md":-1.6,"ru":2,"rd":-0.8},
{"e":0.5,"tu":6,"td":-20,"su":0.3,"sd":-0.3,"mu":2.6,"md":-2.3,"ru":0.8,"rd":-1.5},
{"e":0.55,"tu":16,"td":-4,"su":0.1,"sd":-0.1,"mu":0.6,"md":-0.5,"ru":0.4,"rd":-0.4},
{"e":0.6,"tu":4,"td":-14,"su":0.2,"sd":-0.2,"mu":1,"md":-0.8,"ru":1.6,"rd":-0.5},
{"e":0.65,"tu":0,"td":-2,"su":0,"sd":0,"mu":0.3,"md":-0.1,"ru":0.4,"rd":-0.1},
{"e":0.7,"tu":10,"td":0,"su":0.4,"sd":-0.1,"mu":1.2,"md":-1,"ru":1.6,"rd":-0.6},
{"e":0.75,"tu":14,"td":-8,"su":0.3,"sd":-0.2,"mu":0.5,"md":-1.2,"ru":0.3,"rd":-0.3},
{"e":0.8,"tu":6,"td":-14,"su":0.1,"sd":-0.3,"mu":0.4,"md":-0.5,"ru":0.2,"rd":-0.2},
{"e":0.85,"tu":2,"td":-4,"su":0.1,"sd":-0.1,"mu":0.6,"md":-0.6,"ru":0.1,"rd":-0.1},
{"e":0.9,"tu":14,"td":-16,"su":0.1,"sd":-0.1,"mu":0.8,"md":-0.7,"ru":0.2,"rd":-0.2},
{"e":0.95,"tu":20,"td":-18,"su":0.2,"sd":-0.1,"mu":0.7,"md":-0.9,"ru":0.3,"rd":-0.2},
{"e":1,"tu":24,"td":-24,"su":0.1,"sd":-0.2,"mu":1,"md":-1,"ru":1.5,"rd":-0.3},
{"e":1.05,"tu":28,"td":-26,"su":0.2,"sd":-0.1,"mu":0.8,"md":-1.1,"ru":3.5,"rd":-0.5},
{"e":1.1,"tu":32,"td":-32,"su":0.1,"sd":-0.2,"mu":1,"md":-0.9,"ru":0.5,"rd":-3.7},
{"e":1.15,"tu":30,"td":-30,"su":0.2,"sd":-0.1,"mu":0.9,"md":-1.1,"ru":0.3,"rd":-1.8},
{"e":1.2,"tu":36,"td":-36,"su":0.1,"sd":-0.2,"mu":1.1,"md":-1.2,"ru":0.2,"rd":-0.3},
{"e":1.25,"tu":40,"td":-40,"su":0.2,"sd":-0.1,"mu":0.9,"md":-0.9,"ru":0.1,"rd":-0.2},
{"e":1.3,"tu":34,"td":-36,"su":0.1,"sd":-0.2,"mu":1.2,"md":-1.3,"ru":0.2,"rd":-0.1},
{"e":1.35,"tu":38,"td":-30,"su":0.2,"sd":-0.1,"mu":1,"md":-1,"ru":0.1,"rd":-0.2},
{"e":1.4,"tu":32,"td":-34,"su":0.1,"sd":-0.2,"mu":1.3,"md":-1.2,"ru":0.2,"rd":-0.1},
{"e":1.45,"tu":36,"td":-28,"su":0.2,"sd":-0.1,"mu":0.9,"md":-1.4,"ru":0.1,"rd":-0.2},
{"e":1.5,"tu":30,"td":-32,"su":0.1,"sd":-0.2,"mu":1.2,"md":-1.1,"ru":0.2,"rd":-0.1},
{"e":1.55,"tu":34,"td":-26,"su":0.2,"sd":-0.1,"mu":1,"md":-1.3,"ru":0.1,"rd":-0.2},
{"e":1.6,"tu":28,"td":-30,"su":0.1,"sd":-0.2,"mu":1.4,"md":-1.5,"ru":0.2,"rd":-0.1},
{"e":1.65,"tu":32,"td":-24,"su":0.2,"sd":-0.1,"mu":1.1,"md":-1.2,"ru":0.1,"rd":-0.2},
{"e":1.7,"tu":36,"td":-32,"su":0.1,"sd":-0.2,"mu":1.3,"md":-1.4,"ru":0.2,"rd":-0.1},
{"e":1.75,"tu":30,"td":-26,"su":0.2,"sd":-0.1,"mu":1,"md":-1.6,"ru":0.1,"rd":-0.2},
{"e":1.8,"tu":34,"td":-30,"su":0.1,"sd":-0.2,"mu":1.4,"md":-1.3,"ru":0.2,"rd":-0.1},
{"e":1.85,"tu":28,"td":-24,"su":0.2,"sd":-0.1,"mu":1.2,"md":-1.5,"ru":0.1,"rd":-0.2},
{"e":1.9,"tu":32,"td":-30,"su":0.1,"sd":-0.2,"mu":1.4,"md":-1.7,"ru":0.2,"rd":-0.1},
{"e":1.95,"tu":26,"td":-22,"su":0.2,"sd":-0.1,"mu":1.1,"md":-1.5,"ru":0.1,"rd":-0.2},
{"e":2,"tu":18,"td":-32,"su":0.1,"sd":-0.1,"mu":1.2,"md":-2,"ru":0.1,"rd":-0.1}
],
"D":[
{"e":-3,"tu":26,"td":-16,"su":0.4,"sd":-0.3,"mu":0.5,"md":-0.4,"ru":1,"rd":-0.6},
{"e":-2.95,"tu":20,"td":-28,"su":0.2,"sd":-0.2,"mu":0.3,"md":-0.6,"ru":0.7,"rd":-1},
{"e":-2.9,"tu":30,"td":-20,"su":0.3,"sd":-0.4,"mu":0.6,"md":-0.3,"ru":0.9,"rd":-0.7},
{"e":-2.85,"tu":22,"td":-32,"su":0.2,"sd":-0.2,"mu":0.4,"md":-0.5,"ru":0.6,"rd":-0.9},
{"e":-2.8,"tu":28,"td":-24,"su":0.4,"sd":-0.3,"mu":0.5,"md":-0.4,"ru":0.8,"rd":-0.6},
{"e":-2.75,"tu":24,"td":-30,"su":0.2,"sd":-0.2,"mu":0.3,"md":-0.6,"ru":0.6,"rd":-0.8},
{"e":-2.7,"tu":32,"td":-22,"su":0.3,"sd":-0.4,"mu":0.6,"md":-0.3,"ru":0.9,"rd":-0.5},
{"e":-2.65,"tu":26,"td":-34,"su":0.2,"sd":-0.2,"mu":0.4,"md":-0.5,"ru":0.7,"rd":-0.9},
{"e":-2.6,"tu":34,"td":-26,"su":0.4,"sd":-0.3,"mu":0.5,"md":-0.4,"ru":0.8,"rd":-0.7},
{"e":-2.55,"tu":28,"td":-40,"su":0.2,"sd":-0.2,"mu":0.3,"md":-0.6,"ru":0.6,"rd":-1},
{"e":-2.5,"tu":22,"td":-28,"su":0.3,"sd":-0.4,"mu":0.6,"md":-0.3,"ru":0.9,"rd":-0.6},
{"e":-2.45,"tu":30,"td":-22,"su":0.2,"sd":-0.2,"mu":0.4,"md":-0.5,"ru":0.6,"rd":-0.8},
{"e":-2.4,"tu":18,"td":-30,"su":0.4,"sd":-0.3,"mu":0.5,"md":-0.4,"ru":0.8,"rd":-0.5},
{"e":-2.35,"tu":26,"td":-18,"su":0.2,"sd":-0.2,"mu":0.3,"md":-0.6,"ru":0.7,"rd":-0.9},
{"e":-2.3,"tu":20,"td":-26,"su":0.3,"sd":-0.4,"mu":0.6,"md":-0.3,"ru":0.9,"rd":-0.6},
{"e":-2.25,"tu":28,"td":-20,"su":0.2,"sd":-0.2,"mu":0.4,"md":-0.5,"ru":0.6,"rd":-0.8},
{"e":-2.2,"tu":22,"td":-28,"su":0.4,"sd":-0.3,"mu":0.5,"md":-0.4,"ru":0.8,"rd":-0.7},
{"e":-2.15,"tu":18,"td":-16,"su":0.2,"sd":-0.2,"mu":0.3,"md":-0.6,"ru":0.6,"rd":-0.5},
{"e":-2.1,"tu":26,"td":-24,"su":0.3,"sd":-0.4,"mu":0.6,"md":-0.3,"ru":0.8,"rd":-0.9},
{"e":-2.05,"tu":20,"td":-30,"su":0.2,"sd":-0.2,"mu":0.4,"md":-0.5,"ru":0.9,"rd":-0.7},
{"e":-2,"tu":24,"td":-20,"su":0.4,"sd":-0.3,"mu":0.5,"md":-0.4,"ru":1.1,"rd":-1},
{"e":-1.95,"tu":18,"td":-26,"su":0.2,"sd":-0.2,"mu":0.3,"md":-0.6,"ru":1.5,"rd":-1.3},
{"e":-1.9,"tu":28,"td":-18,"su":0.3,"sd":-0.4,"mu":0.8,"md":-0.5,"ru":0.9,"rd":-0.8},
{"e":-1.85,"tu":20,"td":-24,"su":0.2,"sd":-0.2,"mu":1,"md":-0.7,"ru":0.6,"rd":-0.6},
{"e":-1.8,"tu":32,"td":-14,"su":0.4,"sd":-0.3,"mu":1.3,"md":-0.9,"ru":0.8,"rd":-0.5},
{"e":-1.75,"tu":22,"td":-22,"su":0.2,"sd":-0.2,"mu":0.7,"md":-0.6,"ru":0.5,"rd":-0.7},
{"e":-1.7,"tu":28,"td":-28,"su":0.3,"sd":-0.4,"mu":0.9,"md":-1.1,"ru":0.7,"rd":-0.5},
{"e":-1.65,"tu":16,"td":-18,"su":0.2,"sd":-0.2,"mu":0.5,"md":-0.6,"ru":0.4,"rd":-0.6},
{"e":-1.6,"tu":24,"td":-24,"su":0.3,"sd":-0.3,"mu":0.8,"md":-0.8,"ru":0.6,"rd":-0.4},
{"e":-1.55,"tu":30,"td":-12,"su":0.2,"sd":-0.2,"mu":0.6,"md":-0.5,"ru":0.4,"rd":-0.5},
{"e":-1.5,"tu":18,"td":-20,"su":0.3,"sd":-0.3,"mu":0.9,"md":-0.9,"ru":0.5,"rd":-0.4},
{"e":-1.45,"tu":26,"td":-16,"su":0.2,"sd":-0.2,"mu":0.5,"md":-0.6,"ru":0.3,"rd":-0.5},
{"e":-1.4,"tu":14,"td":-22,"su":0.3,"sd":-0.3,"mu":0.7,"md":-0.5,"ru":0.4,"rd":-0.3},
{"e":-1.35,"tu":20,"td":-10,"su":0.2,"sd":-0.2,"mu":0.4,"md":-0.7,"ru":0.3,"rd":-0.4},
{"e":-1.3,"tu":10,"td":-18,"su":0.2,"sd":-0.2,"mu":0.6,"md":-0.4,"ru":0.3,"rd":-0.3},
{"e":-1.25,"tu":18,"td":-6,"su":0.1,"sd":-0.1,"mu":0.3,"md":-0.5,"ru":0.2,"rd":-0.3},
{"e":-1.2,"tu":6,"td":-14,"su":0.2,"sd":-0.2,"mu":0.5,"md":-0.3,"ru":0.2,"rd":-0.2},
{"e":-1.15,"tu":14,"td":-2,"su":0.1,"sd":-0.1,"mu":0.3,"md":-0.6,"ru":0.2,"rd":-0.2},
{"e":-1.1,"tu":4,"td":-10,"su":0.1,"sd":-0.1,"mu":0.4,"md":-0.3,"ru":0.1,"rd":-0.2},
{"e":-1.05,"tu":10,"td":-4,"su":0.1,"sd":-0.1,"mu":0.3,"md":-0.4,"ru":0.1,"rd":-0.1},
{"e":-1,"tu":0,"td":-8,"su":0,"sd":-0.1,"mu":0.1,"md":-0.3,"ru":0,"rd":-0.1},
{"e":-0.95,"tu":8,"td":-2,"su":0.1,"sd":0,"mu":0.3,"md":-0.1,"ru":0.1,"rd":0},
{"e":-0.9,"tu":2,"td":-6,"su":0,"sd":-0.1,"mu":0.1,"md":-0.2,"ru":0,"rd":-0.1},
{"e":-0.85,"tu":6,"td":-1,"su":0,"sd":0,"mu":0.2,"md":-0.1,"ru":0.1,"rd":0},
{"e":-0.8,"tu":0,"td":0,"su":0,"sd":0,"mu":0,"md":0,"ru":0,"rd":0},
{"e":-0.4,"tu":0,"td":0,"su":0,"sd":0,"mu":0,"md":0,"ru":0,"rd":0},
{"e":-0.35,"tu":4,"td":-4,"su":0,"sd":0,"mu":0.6,"md":-0.2,"ru":0,"rd":0},
{"e":-0.3,"tu":18,"td":-6,"su":0.4,"sd":-0.1,"mu":3,"md":-0.5,"ru":0.3,"rd":-0.1},
{"e":-0.25,"tu":6,"td":-18,"su":0.1,"sd":-0.3,"mu":0.4,"md":-3.1,"ru":0.2,"rd":-0.2},
{"e":-0.2,"tu":0,"td":-2,"su":0,"sd":0,"mu":0,"md":-0.5,"ru":0,"rd":0},
{"e":-0.15,"tu":0,"td":0,"su":0,"sd":0,"mu":0,"md":0,"ru":0,"rd":0},
{"e":-0.1,"tu":8,"td":-2,"su":0.1,"sd":0,"mu":0.1,"md":0,"ru":0.6,"rd":-0.1},
{"e":-0.05,"tu":18,"td":0,"su":0.2,"sd":0,"mu":0.3,"md":0,"ru":2.4,"rd":0},
{"e":0,"tu":2,"td":0,"su":0,"sd":0,"mu":0,"md":0,"ru":0.3,"rd":-0.2},
{"e":0.05,"tu":0,"td":0,"su":0,"sd":0,"mu":0,"md":0,"ru":0,"rd":0},
{"e":0.1,"tu":0,"td":-4,"su":0,"sd":0,"mu":0,"md":-0.1,"ru":0,"rd":-0.4},
{"e":0.15,"tu":0,"td":-16,"su":0,"sd":-0.1,"mu":0,"md":-0.3,"ru":0,"rd":-2.2},
{"e":0.2,"tu":6,"td":-4,"su":0.1,"sd":0,"mu":0.2,"md":0,"ru":0.5,"rd":-0.4},
{"e":0.25,"tu":16,"td":-8,"su":0.2,"sd":-0.1,"mu":0.4,"md":-0.2,"ru":1.5,"rd":-0.5},
{"e":0.3,"tu":22,"td":-14,"su":0.3,"sd":-0.2,"mu":0.5,"md":-0.4,"ru":2.5,"rd":-0.8},
{"e":0.35,"tu":18,"td":-20,"su":0.9,"sd":-0.3,"mu":0.6,"md":-0.3,"ru":3.9,"rd":-2},
{"e":0.4,"tu":24,"td":-10,"su":0.4,"sd":-0.6,"mu":0.3,"md":-0.6,"ru":1,"rd":-4.1},
{"e":0.45,"tu":12,"td":-18,"su":0.2,"sd":-0.3,"mu":0.2,"md":-0.3,"ru":0.4,"rd":-1.5},
{"e":0.5,"tu":8,"td":-12,"su":0.1,"sd":-0.1,"mu":0.1,"md":-0.2,"ru":0.5,"rd":-0.3},
{"e":0.55,"tu":4,"td":-6,"su":0,"sd":-0.1,"mu":0.1,"md":-0.1,"ru":0.2,"rd":-0.3},
{"e":0.6,"tu":0,"td":0,"su":0,"sd":0,"mu":0,"md":0,"ru":0,"rd":0},
{"e":0.7,"tu":0,"td":0,"su":0,"sd":0,"mu":0,"md":0,"ru":0,"rd":0},
{"e":0.75,"tu":10,"td":-4,"su":0.4,"sd":0,"mu":0.1,"md":0,"ru":1.5,"rd":-0.1},
{"e":0.8,"tu":22,"td":-12,"su":1,"sd":-0.2,"mu":0.3,"md":-0.1,"ru":5.6,"rd":-0.3},
{"e":0.85,"tu":12,"td":-28,"su":0.2,"sd":-0.8,"mu":0.2,"md":-0.6,"ru":0.3,"rd":-6},
{"e":0.9,"tu":6,"td":-16,"su":0.1,"sd":-0.2,"mu":0.5,"md":-0.4,"ru":0.1,"rd":-1},
{"e":0.95,"tu":16,"td":-20,"su":0.1,"sd":-0.1,"mu":0.5,"md":-0.5,"ru":0.1,"rd":-0.1},
{"e":1,"tu":24,"td":-22,"su":0.2,"sd":-0.2,"mu":0.7,"md":-0.7,"ru":0.2,"rd":-0.2},
{"e":1.05,"tu":20,"td":-28,"su":0.1,"sd":-0.1,"mu":0.6,"md":-0.8,"ru":0.1,"rd":-0.1},
{"e":1.1,"tu":30,"td":-24,"su":0.2,"sd":-0.2,"mu":0.8,"md":-0.6,"ru":0.2,"rd":-0.2},
{"e":1.15,"tu":26,"td":-34,"su":0.1,"sd":-0.1,"mu":0.7,"md":-0.9,"ru":0.1,"rd":-0.1},
{"e":1.2,"tu":36,"td":-30,"su":0.2,"sd":-0.2,"mu":1,"md":-0.8,"ru":0.2,"rd":-0.2},
{"e":1.25,"tu":30,"td":-38,"su":0.1,"sd":-0.1,"mu":0.9,"md":-1.1,"ru":0.1,"rd":-0.1},
{"e":1.3,"tu":38,"td":-32,"su":0.2,"sd":-0.2,"mu":1.2,"md":-1,"ru":0.2,"rd":-0.2},
{"e":1.35,"tu":28,"td":-36,"su":0.1,"sd":-0.1,"mu":1,"md":-1.2,"ru":0.1,"rd":-0.1},
{"e":1.4,"tu":34,"td":-30,"su":0.2,"sd":-0.2,"mu":1.3,"md":-1.1,"ru":0.2,"rd":-0.2},
{"e":1.45,"tu":30,"td":-38,"su":0.1,"sd":-0.1,"mu":1.1,"md":-1.4,"ru":0.1,"rd":-0.1},
{"e":1.5,"tu":36,"td":-34,"su":0.2,"sd":-0.2,"mu":1.4,"md":-1.2,"ru":0.2,"rd":-0.2},
{"e":1.55,"tu":32,"td":-40,"su":0.1,"sd":-0.1,"mu":1.2,"md":-1.5,"ru":0.1,"rd":-0.1},
{"e":1.6,"tu":38,"td":-36,"su":0.2,"sd":-0.2,"mu":1.6,"md":-1.4,"ru":0.2,"rd":-0.2},
{"e":1.65,"tu":34,"td":-44,"su":0.1,"sd":-0.1,"mu":1.5,"md":-1.7,"ru":0.1,"rd":-0.1},
{"e":1.7,"tu":40,"td":-38,"su":0.2,"sd":-0.2,"mu":1.8,"md":-1.8,"ru":0.2,"rd":-0.2},
{"e":1.75,"tu":32,"td":-42,"su":0.1,"sd":-0.1,"mu":1.6,"md":-1.5,"ru":0.1,"rd":-0.1},
{"e":1.8,"tu":36,"td":-34,"su":0.2,"sd":-0.2,"mu":1.7,"md":-1.7,"ru":0.2,"rd":-0.2},
{"e":1.85,"tu":30,"td":-40,"su":0.1,"sd":-0.1,"mu":1.5,"md":-1.4,"ru":0.1,"rd":-0.1},
{"e":1.9,"tu":34,"td":-32,"su":0.2,"sd":-0.2,"mu":1.6,"md":-1.6,"ru":0.2,"rd":-0.2},
{"e":1.95,"tu":28,"td":-36,"su":0.1,"sd":-0.1,"mu":1.4,"md":-1.3,"ru":0.1,"rd":-0.1},
{"e":2,"tu":26,"td":-24,"su":0.1,"sd":-0.1,"mu":1.3,"md":-1.5,"ru":0.1,"rd":-0.1}
],
"E":[
{"e":-3,"tu":22,"td":-30,"su":0.5,"sd":-0.3,"mu":0.4,"md":-0.5,"ru":0.8,"rd":-0.7},
{"e":-2.95,"tu":34,"td":-18,"su":0.3,"sd":-0.5,"mu":0.6,"md":-0.3,"ru":1.1,"rd":-0.9},
{"e":-2.9,"tu":26,"td":-26,"su":0.4,"sd":-0.3,"mu":0.3,"md":-0.6,"ru":0.7,"rd":-0.6},
{"e":-2.85,"tu":36,"td":-38,"su":0.2,"sd":-0.4,"mu":0.5,"md":-0.4,"ru":1,"rd":-1.1},
{"e":-2.8,"tu":28,"td":-28,"su":0.5,"sd":-0.3,"mu":0.4,"md":-0.5,"ru":0.6,"rd":-0.7},
{"e":-2.75,"tu":20,"td":-36,"su":0.3,"sd":-0.5,"mu":0.6,"md":-0.3,"ru":0.9,"rd":-0.9},
{"e":-2.7,"tu":30,"td":-24,"su":0.4,"sd":-0.3,"mu":0.3,"md":-0.6,"ru":0.7,"rd":-1},
{"e":-2.65,"tu":24,"td":-30,"su":0.2,"sd":-0.4,"mu":0.5,"md":-0.4,"ru":1.1,"rd":-0.6},
{"e":-2.6,"tu":32,"td":-20,"su":0.5,"sd":-0.3,"mu":0.4,"md":-0.5,"ru":0.6,"rd":-0.8},
{"e":-2.55,"tu":22,"td":-28,"su":0.3,"sd":-0.5,"mu":0.6,"md":-0.3,"ru":0.9,"rd":-0.7},
{"e":-2.5,"tu":28,"td":-34,"su":0.4,"sd":-0.3,"mu":0.3,"md":-0.6,"ru":0.7,"rd":-1},
{"e":-2.45,"tu":18,"td":-22,"su":0.2,"sd":-0.4,"mu":0.5,"md":-0.4,"ru":0.8,"rd":-0.6},
{"e":-2.4,"tu":26,"td":-30,"su":0.5,"sd":-0.3,"mu":0.4,"md":-0.5,"ru":0.6,"rd":-0.8},
{"e":-2.35,"tu":34,"td":-18,"su":0.3,"sd":-0.5,"mu":0.6,"md":-0.3,"ru":0.9,"rd":-0.7},
{"e":-2.3,"tu":24,"td":-26,"su":0.4,"sd":-0.3,"mu":0.3,"md":-0.6,"ru":0.7,"rd":-0.9},
{"e":-2.25,"tu":20,"td":-32,"su":0.6,"sd":-0.4,"mu":0.5,"md":-0.4,"ru":0.8,"rd":-0.6},
{"e":-2.2,"tu":28,"td":-24,"su":0.3,"sd":-0.5,"mu":0.4,"md":-0.5,"ru":0.6,"rd":-0.8},
{"e":-2.15,"tu":22,"td":-30,"su":0.5,"sd":-0.3,"mu":0.6,"md":-0.3,"ru":0.9,"rd":-0.7},
{"e":-2.1,"tu":30,"td":-20,"su":0.3,"sd":-0.4,"mu":0.3,"md":-0.6,"ru":0.8,"rd":-1},
{"e":-2.05,"tu":18,"td":-28,"su":0.4,"sd":-0.3,"mu":0.5,"md":-0.4,"ru":1.2,"rd":-1.2},
{"e":-2,"tu":26,"td":-16,"su":0.2,"sd":-0.5,"mu":0.4,"md":-0.5,"ru":2.1,"rd":-1.9},
{"e":-1.95,"tu":20,"td":-26,"su":0.5,"sd":-0.3,"mu":0.6,"md":-0.3,"ru":1.4,"rd":-1.5},
{"e":-1.9,"tu":32,"td":-20,"su":0.3,"sd":-0.4,"mu":0.3,"md":-0.6,"ru":0.8,"rd":-0.9},
{"e":-1.85,"tu":24,"td":-28,"su":0.4,"sd":-0.3,"mu":0.5,"md":-0.4,"ru":0.6,"rd":-0.7},
{"e":-1.8,"tu":18,"td":-22,"su":0.2,"sd":-0.5,"mu":0.7,"md":-0.5,"ru":0.7,"rd":-0.6},
{"e":-1.75,"tu":26,"td":-34,"su":0.5,"sd":-0.3,"mu":0.5,"md":-0.3,"ru":0.5,"rd":-0.8},
{"e":-1.7,"tu":22,"td":-26,"su":0.3,"sd":-0.4,"mu":0.6,"md":-0.6,"ru":0.7,"rd":-0.6},
{"e":-1.65,"tu":30,"td":-20,"su":0.4,"sd":-0.3,"mu":0.4,"md":-0.4,"ru":0.5,"rd":-0.7},
{"e":-1.6,"tu":36,"td":-30,"su":0.2,"sd":-0.4,"mu":0.6,"md":-0.5,"ru":0.6,"rd":-0.5},
{"e":-1.55,"tu":24,"td":-24,"su":0.4,"sd":-0.3,"mu":0.5,"md":-0.3,"ru":0.4,"rd":-0.6},
{"e":-1.5,"tu":14,"td":-12,"su":0.3,"sd":-0.3,"mu":0.4,"md":-0.5,"ru":0.5,"rd":-0.4},
{"e":-1.45,"tu":4,"td":-6,"su":0.2,"sd":-0.2,"mu":0.3,"md":-0.3,"ru":0.3,"rd":-0.5},
{"e":-1.4,"tu":10,"td":-14,"su":0.3,"sd":-0.3,"mu":0.5,"md":-0.4,"ru":0.4,"rd":-0.3},
{"e":-1.35,"tu":16,"td":-20,"su":0.2,"sd":-0.2,"mu":0.6,"md":-0.5,"ru":0.3,"rd":-0.4},
{"e":-1.3,"tu":8,"td":-10,"su":0.3,"sd":-0.3,"mu":0.8,"md":-0.6,"ru":0.4,"rd":-0.3},
{"e":-1.25,"tu":20,"td":-16,"su":0.2,"sd":-0.2,"mu":0.5,"md":-0.4,"ru":0.3,"rd":-0.4},
{"e":-1.2,"tu":10,"td":-6,"su":0.2,"sd":-0.2,"mu":0.6,"md":-0.5,"ru":0.2,"rd":-0.3},
{"e":-1.15,"tu":4,"td":-12,"su":0.1,"sd":-0.2,"mu":0.4,"md":-0.3,"ru":0.3,"rd":-0.2},
{"e":-1.1,"tu":12,"td":-4,"su":0.2,"sd":-0.1,"mu":0.5,"md":-0.5,"ru":0.2,"rd":-0.3},
{"e":-1.05,"tu":6,"td":-10,"su":0.1,"sd":-0.2,"mu":0.3,"md":-0.3,"ru":0.2,"rd":-0.2},
{"e":-1,"tu":14,"td":-6,"su":0.1,"sd":-0.1,"mu":0.6,"md":-0.4,"ru":0.2,"rd":-0.2},
{"e":-0.95,"tu":4,"td":-2,"su":0.1,"sd":-0.1,"mu":0.2,"md":-0.1,"ru":0.1,"rd":-0.1},
{"e":-0.9,"tu":0,"td":0,"su":0,"sd":0,"mu":0,"md":0,"ru":0,"rd":0},
{"e":-0.45,"tu":0,"td":0,"su":0,"sd":0,"mu":0,"md":0,"ru":0,"rd":0},
{"e":-0.4,"tu":10,"td":-6,"su":0.1,"sd":-0.1,"mu":0.1,"md":-0.1,"ru":0.8,"rd":-0.6},
{"e":-0.35,"tu":16,"td":-14,"su":0.1,"sd":-0.1,"mu":0.2,"md":-0.2,"ru":1.2,"rd":-1.3},
{"e":-0.3,"tu":4,"td":-4,"su":0,"sd":0,"mu":0.1,"md":-0.1,"ru":0.3,"rd":-0.3},
{"e":-0.25,"tu":0,"td":0,"su":0,"sd":0,"mu":0,"md":0,"ru":0,"rd":0},
{"e":-0.15,"tu":0,"td":0,"su":0,"sd":0,"mu":0,"md":0,"ru":0,"rd":0},
{"e":-0.1,"tu":12,"td":-2,"su":0.1,"sd":0,"mu":1.1,"md":-0.1,"ru":1.7,"rd":-0.1},
{"e":-0.05,"tu":6,"td":0,"su":0.1,"sd":0,"mu":0.3,"md":0,"ru":0.8,"rd":0},
{"e":0,"tu":2,"td":0,"su":0,"sd":0,"mu":0.1,"md":0,"ru":0.2,"rd":0},
{"e":0.05,"tu":10,"td":-8,"su":0.1,"sd":-0.2,"mu":0.2,"md":-0.6,"ru":0.3,"rd":-1},
{"e":0.1,"tu":20,"td":-18,"su":0.2,"sd":-0.3,"mu":0.4,"md":-0.8,"ru":0.3,"rd":-1.5},
{"e":0.15,"tu":12,"td":-12,"su":0.1,"sd":-0.2,"mu":0.3,"md":-0.5,"ru":0.4,"rd":-0.5},
{"e":0.2,"tu":24,"td":-22,"su":0.3,"sd":-0.3,"mu":0.5,"md":-0.4,"ru":1,"rd":-1.2},
{"e":0.25,"tu":16,"td":-10,"su":1.4,"sd":-0.2,"mu":0.6,"md":-0.3,"ru":3.5,"rd":-0.6},
{"e":0.3,"tu":8,"td":-24,"su":0.3,"sd":-1.8,"mu":0.2,"md":-0.8,"ru":0.8,"rd":-4.6},
{"e":0.35,"tu":20,"td":-14,"su":0.4,"sd":-0.3,"mu":0.3,"md":-0.4,"ru":3.3,"rd":-1.2},
{"e":0.4,"tu":12,"td":-18,"su":0.2,"sd":-0.2,"mu":0.2,"md":-0.3,"ru":0.4,"rd":-3},
{"e":0.45,"tu":4,"td":-6,"su":0.1,"sd":-0.1,"mu":0.1,"md":-0.1,"ru":0.1,"rd":-0.4},
{"e":0.5,"tu":0,"td":0,"su":0,"sd":0,"mu":0,"md":0,"ru":0,"rd":0},
{"e":0.55,"tu":2,"td":0,"su":0,"sd":0,"mu":0,"md":0,"ru":0.3,"rd":0},
{"e":0.6,"tu":8,"td":-6,"su":0.2,"sd":-0.1,"mu":0.5,"md":-0.2,"ru":3.9,"rd":-0.3},
{"e":0.65,"tu":18,"td":-10,"su":0.1,"sd":-0.2,"mu":0.3,"md":-0.5,"ru":1,"rd":-2.5},
{"e":0.7,"tu":6,"td":-16,"su":0.1,"sd":-0.3,"mu":0.6,"md":-0.8,"ru":0.3,"rd":-3.6},
{"e":0.75,"tu":12,"td":-20,"su":0.1,"sd":-0.1,"mu":0.7,"md":-1.2,"ru":0.2,"rd":-0.4},
{"e":0.8,"tu":4,"td":-8,"su":0.1,"sd":-0.1,"mu":0.8,"md":-1.3,"ru":0.1,"rd":-0.2},
{"e":0.85,"tu":8,"td":-4,"su":0.2,"sd":-0.1,"mu":1,"md":-1.5,"ru":0.2,"rd":-0.1},
{"e":0.9,"tu":12,"td":-10,"su":0.1,"sd":-0.2,"mu":1.2,"md":-1.4,"ru":0.1,"rd":-0.2},
{"e":0.95,"tu":16,"td":-14,"su":0.2,"sd":-0.1,"mu":1.4,"md":-1.7,"ru":0.2,"rd":-0.1},
{"e":1,"tu":20,"td":-16,"su":0.1,"sd":-0.2,"mu":1.3,"md":-1.5,"ru":0.1,"rd":-0.2},
{"e":1.05,"tu":26,"td":-22,"su":0.2,"sd":-0.1,"mu":1.6,"md":-1.8,"ru":0.2,"rd":-0.1},
{"e":1.1,"tu":32,"td":-28,"su":0.1,"sd":-0.2,"mu":1.5,"md":-1.6,"ru":0.1,"rd":-0.2},
{"e":1.15,"tu":38,"td":-30,"su":0.2,"sd":-0.1,"mu":1.8,"md":-1.9,"ru":0.2,"rd":-0.1},
{"e":1.2,"tu":30,"td":-36,"su":0.1,"sd":-0.2,"mu":1.6,"md":-1.5,"ru":0.1,"rd":-0.2},
{"e":1.25,"tu":34,"td":-30,"su":0.2,"sd":-0.1,"mu":1.7,"md":-1.7,"ru":0.2,"rd":-0.1},
{"e":1.3,"tu":40,"td":-38,"su":0.1,"sd":-0.2,"mu":1.4,"md":-1.4,"ru":0.1,"rd":-0.2},
{"e":1.35,"tu":36,"td":-44,"su":0.2,"sd":-0.1,"mu":1.5,"md":-1.6,"ru":0.2,"rd":-0.1},
{"e":1.4,"tu":42,"td":-40,"su":0.1,"sd":-0.2,"mu":1.3,"md":-1.8,"ru":0.1,"rd":-0.2},
{"e":1.45,"tu":46,"td":-50,"su":0.2,"sd":-0.1,"mu":1.6,"md":-1.5,"ru":0.2,"rd":-0.1},
{"e":1.5,"tu":38,"td":-42,"su":0.1,"sd":-0.2,"mu":1.4,"md":-1.7,"ru":0.1,"rd":-0.2},
{"e":1.55,"tu":40,"td":-36,"su":0.2,"sd":-0.1,"mu":1.2,"md":-1.4,"ru":0.2,"rd":-0.1},
{"e":1.6,"tu":34,"td":-40,"su":0.1,"sd":-0.2,"mu":1.5,"md":-1.6,"ru":0.1,"rd":-0.2},
{"e":1.65,"tu":38,"td":-30,"su":0.2,"sd":-0.1,"mu":1.3,"md":-1.3,"ru":0.2,"rd":-0.1},
{"e":1.7,"tu":30,"td":-34,"su":0.1,"sd":-0.2,"mu":1.6,"md":-1.9,"ru":0.1,"rd":-0.2},
{"e":1.75,"tu":34,"td":-28,"su":0.2,"sd":-0.1,"mu":1.2,"md":-1.2,"ru":0.2,"rd":-0.1},
{"e":1.8,"tu":28,"td":-32,"su":0.1,"sd":-0.2,"mu":1,"md":-1.4,"ru":0.1,"rd":-0.2},
{"e":1.85,"tu":32,"td":-26,"su":0.2,"sd":-0.1,"mu":0.9,"md":-1,"ru":0.2,"rd":-0.1},
{"e":1.9,"tu":24,"td":-22,"su":0.1,"sd":-0.2,"mu":1,"md":-0.9,"ru":0.1,"rd":-0.2},
{"e":1.95,"tu":18,"td":-16,"su":0.2,"sd":-0.1,"mu":0.8,"md":-0.7,"ru":0.2,"rd":-0.1},
{"e":2,"tu":14,"td":-14,"su":0.1,"sd":-0.1,"mu":0.6,"md":-0.6,"ru":0.1,"rd":-0.1}
]
},
"vconcat":[
{"hconcat":[
{"vconcat":[
{"width":235,"height":125,"data":{"name":"c32"},"layer":[
{"transform":[{"fold":["tu","td"],"as":["k","v"]}],"mark":{"type":"line","clip":true,"strokeWidth":1.1},"encoding":{"x":{"field":"e","type":"quantitative","scale":{"domain":[-3,2],"nice":false},"axis":{"title":null,"labels":false,"values":[-3,-2.5,-2,-1.5,-1,-0.5,0,0.5,1,1.5,2]}},"y":{"field":"v","type":"quantitative","scale":{"domain":[-90,90],"nice":false},"axis":{"title":null,"values":[-60,0,60],"labelExpr":"'' + datum.value"}},"detail":{"field":"k"},"color":{"datum":"Total DOS","scale":{"range":["#1e1e1e"]},"legend":{"title":null,"orient":"bottom-right","offset":9,"symbolSize":400}}}},
{"data":{"values":[{}]},"mark":{"type":"rule"},"encoding":{"x":{"datum":0}}},
{"data":{"values":[{"t":"Mo₁₅RhS₃₂"}]},"mark":{"type":"text"},"encoding":{"x":{"datum":0.93},"y":{"datum":56},"text":{"field":"t"}}}
]},
{"width":235,"height":125,"data":{"name":"c32"},"layer":[
{"transform":[{"fold":["ru","rd"],"as":["k","v"]}],"mark":{"type":"line","clip":true,"strokeWidth":1},"encoding":{"x":{"field":"e","type":"quantitative","scale":{"domain":[-3,2],"nice":false},"axis":{"title":null,"values":[-3,-2.5,-2,-1.5,-1,-0.5,0,0.5,1,1.5,2],"labelExpr":"datum.value % 1 === 0 ? '' + datum.value : ''"}},"y":{"field":"v","type":"quantitative","scale":{"domain":[-6,6],"nice":false},"axis":{"title":"DOS (States/eV)","values":[-4,0,4],"labelExpr":"'' + datum.value","titleX":-26,"titleY":0,"titleBaseline":"middle","titleAlign":"center","titleAngle":-90}},"detail":{"field":"k"},"color":{"datum":"Rh-4d","scale":{"domain":["S-3p","Mo-4d","Rh-4d"],"range":["#ff2020","#2050ff","#55892a"]},"legend":{"title":null,"orient":"bottom-right","offset":3,"symbolSize":169}}}},
{"transform":[{"fold":["mu","md"],"as":["k","v"]}],"mark":{"type":"line","clip":true,"strokeWidth":1},"encoding":{"x":{"field":"e","type":"quantitative"},"y":{"field":"v","type":"quantitative"},"detail":{"field":"k"},"color":{"datum":"Mo-4d"}}},
{"transform":[{"fold":["su","sd"],"as":["k","v"]}],"mark":{"type":"line","clip":true,"strokeWidth":1},"encoding":{"x":{"field":"e","type":"quantitative"},"y":{"field":"v","type":"quantitative"},"detail":{"field":"k"},"color":{"datum":"S-3p"}}},
{"data":{"values":[{}]},"mark":{"type":"rule"},"encoding":{"x":{"datum":0}}}
]}
],"spacing":0,"bounds":"flush","resolve":{"scale":{"x":"independent","y":"independent","color":"independent"},"legend":{"color":"independent"}}},
{"vconcat":[
{"width":235,"height":125,"data":{"name":"A"},"layer":[
{"transform":[{"fold":["tu","td"],"as":["k","v"]}],"mark":{"type":"line","clip":true,"strokeWidth":1.1},"encoding":{"x":{"field":"e","type":"quantitative","scale":{"domain":[-3,2],"nice":false},"axis":{"title":null,"labels":false,"values":[-3,-2.5,-2,-1.5,-1,-0.5,0,0.5,1,1.5,2]}},"y":{"field":"v","type":"quantitative","scale":{"domain":[-90,90],"nice":false},"axis":{"title":null,"values":[-60,0,60],"labelExpr":"'' + datum.value"}},"detail":{"field":"k"},"color":{"datum":"Total DOS","scale":{"range":["#1e1e1e"]},"legend":{"title":null,"orient":"bottom-right","offset":9,"symbolSize":400}}}},
{"data":{"values":[{}]},"mark":{"type":"rule"},"encoding":{"x":{"datum":0}}},
{"data":{"values":[{"t":"Mo₁₅RhS₃₁-A"}]},"mark":{"type":"text"},"encoding":{"x":{"datum":0.96},"y":{"datum":56},"text":{"field":"t"}}}
]},
{"width":235,"height":125,"data":{"name":"A"},"layer":[
{"transform":[{"fold":["ru","rd"],"as":["k","v"]}],"mark":{"type":"line","clip":true,"strokeWidth":1},"encoding":{"x":{"field":"e","type":"quantitative","scale":{"domain":[-3,2],"nice":false},"axis":{"title":null,"values":[-3,-2.5,-2,-1.5,-1,-0.5,0,0.5,1,1.5,2],"labelExpr":"datum.value % 1 === 0 ? '' + datum.value : ''"}},"y":{"field":"v","type":"quantitative","scale":{"domain":[-6,6],"nice":false},"axis":{"title":null,"values":[-4,0,4],"labelExpr":"'' + datum.value"}},"detail":{"field":"k"},"color":{"datum":"Rh-4d","scale":{"domain":["S-3p","Mo-4d","Rh-4d"],"range":["#ff2020","#2050ff","#55892a"]},"legend":{"title":null,"orient":"bottom-right","offset":3,"symbolSize":169}}}},
{"transform":[{"fold":["mu","md"],"as":["k","v"]}],"mark":{"type":"line","clip":true,"strokeWidth":1},"encoding":{"x":{"field":"e","type":"quantitative"},"y":{"field":"v","type":"quantitative"},"detail":{"field":"k"},"color":{"datum":"Mo-4d"}}},
{"transform":[{"fold":["su","sd"],"as":["k","v"]}],"mark":{"type":"line","clip":true,"strokeWidth":1},"encoding":{"x":{"field":"e","type":"quantitative"},"y":{"field":"v","type":"quantitative"},"detail":{"field":"k"},"color":{"datum":"S-3p"}}},
{"data":{"values":[{}]},"mark":{"type":"rule"},"encoding":{"x":{"datum":0}}}
]}
],"spacing":0,"bounds":"flush","resolve":{"scale":{"x":"independent","y":"independent","color":"independent"},"legend":{"color":"independent"}}},
{"vconcat":[
{"width":235,"height":125,"data":{"name":"B"},"layer":[
{"transform":[{"fold":["tu","td"],"as":["k","v"]}],"mark":{"type":"line","clip":true,"strokeWidth":1.1},"encoding":{"x":{"field":"e","type":"quantitative","scale":{"domain":[-3,2],"nice":false},"axis":{"title":null,"labels":false,"values":[-3,-2.5,-2,-1.5,-1,-0.5,0,0.5,1,1.5,2]}},"y":{"field":"v","type":"quantitative","scale":{"domain":[-90,90],"nice":false},"axis":{"title":null,"values":[-60,0,60],"labelExpr":"'' + datum.value"}},"detail":{"field":"k"},"color":{"datum":"Total DOS","scale":{"range":["#1e1e1e"]},"legend":{"title":null,"orient":"bottom-right","offset":9,"symbolSize":400}}}},
{"data":{"values":[{}]},"mark":{"type":"rule"},"encoding":{"x":{"datum":0}}},
{"data":{"values":[{"t":"Mo₁₅RhS₃₁-B"}]},"mark":{"type":"text"},"encoding":{"x":{"datum":0.96},"y":{"datum":56},"text":{"field":"t"}}}
]},
{"width":235,"height":125,"data":{"name":"B"},"layer":[
{"transform":[{"fold":["ru","rd"],"as":["k","v"]}],"mark":{"type":"line","clip":true,"strokeWidth":1},"encoding":{"x":{"field":"e","type":"quantitative","scale":{"domain":[-3,2],"nice":false},"axis":{"title":null,"values":[-3,-2.5,-2,-1.5,-1,-0.5,0,0.5,1,1.5,2],"labelExpr":"datum.value % 1 === 0 ? '' + datum.value : ''"}},"y":{"field":"v","type":"quantitative","scale":{"domain":[-6,6],"nice":false},"axis":{"title":null,"values":[-4,0,4],"labelExpr":"'' + datum.value"}},"detail":{"field":"k"},"color":{"datum":"Rh-4d","scale":{"domain":["S-3p","Mo-4d","Rh-4d"],"range":["#ff2020","#2050ff","#55892a"]},"legend":{"title":null,"orient":"bottom-right","offset":3,"symbolSize":169}}}},
{"transform":[{"fold":["mu","md"],"as":["k","v"]}],"mark":{"type":"line","clip":true,"strokeWidth":1},"encoding":{"x":{"field":"e","type":"quantitative"},"y":{"field":"v","type":"quantitative"},"detail":{"field":"k"},"color":{"datum":"Mo-4d"}}},
{"transform":[{"fold":["su","sd"],"as":["k","v"]}],"mark":{"type":"line","clip":true,"strokeWidth":1},"encoding":{"x":{"field":"e","type":"quantitative"},"y":{"field":"v","type":"quantitative"},"detail":{"field":"k"},"color":{"datum":"S-3p"}}},
{"data":{"values":[{}]},"mark":{"type":"rule"},"encoding":{"x":{"datum":0}}}
]}
],"spacing":0,"bounds":"flush","resolve":{"scale":{"x":"independent","y":"independent","color":"independent"},"legend":{"color":"independent"}}}
],"spacing":7,"resolve":{"scale":{"x":"independent","y":"independent","color":"independent"},"legend":{"color":"independent"}}},
{"hconcat":[
{"vconcat":[
{"width":235,"height":125,"data":{"name":"C"},"layer":[
{"transform":[{"fold":["tu","td"],"as":["k","v"]}],"mark":{"type":"line","clip":true,"strokeWidth":1.1},"encoding":{"x":{"field":"e","type":"quantitative","scale":{"domain":[-3,2],"nice":false},"axis":{"title":null,"labels":false,"values":[-3,-2.5,-2,-1.5,-1,-0.5,0,0.5,1,1.5,2]}},"y":{"field":"v","type":"quantitative","scale":{"domain":[-90,90],"nice":false},"axis":{"title":null,"values":[-60,0,60],"labelExpr":"'' + datum.value"}},"detail":{"field":"k"},"color":{"datum":"Total DOS","scale":{"range":["#1e1e1e"]},"legend":{"title":null,"orient":"bottom-right","offset":9,"symbolSize":400}}}},
{"data":{"values":[{}]},"mark":{"type":"rule"},"encoding":{"x":{"datum":0}}},
{"data":{"values":[{"t":"Mo₁₅RhS₃₁-C"}]},"mark":{"type":"text"},"encoding":{"x":{"datum":0.85},"y":{"datum":59},"text":{"field":"t"}}}
]},
{"width":235,"height":125,"data":{"name":"C"},"layer":[
{"transform":[{"fold":["ru","rd"],"as":["k","v"]}],"mark":{"type":"line","clip":true,"strokeWidth":1},"encoding":{"x":{"field":"e","type":"quantitative","scale":{"domain":[-3,2],"nice":false},"axis":{"title":"Energy (eV)","titlePadding":2,"values":[-3,-2.5,-2,-1.5,-1,-0.5,0,0.5,1,1.5,2],"labelExpr":"datum.value % 1 === 0 ? '' + datum.value : ''"}},"y":{"field":"v","type":"quantitative","scale":{"domain":[-6,6],"nice":false},"axis":{"title":"DOS (States/eV)","values":[-4,0,4],"labelExpr":"'' + datum.value","titleX":-26,"titleY":0,"titleBaseline":"middle","titleAlign":"center","titleAngle":-90}},"detail":{"field":"k"},"color":{"datum":"Rh-4d","scale":{"domain":["S-3p","Mo-4d","Rh-4d"],"range":["#ff2020","#2050ff","#55892a"]},"legend":{"title":null,"orient":"bottom-right","offset":3,"symbolSize":169}}}},
{"transform":[{"fold":["mu","md"],"as":["k","v"]}],"mark":{"type":"line","clip":true,"strokeWidth":1},"encoding":{"x":{"field":"e","type":"quantitative"},"y":{"field":"v","type":"quantitative"},"detail":{"field":"k"},"color":{"datum":"Mo-4d"}}},
{"transform":[{"fold":["su","sd"],"as":["k","v"]}],"mark":{"type":"line","clip":true,"strokeWidth":1},"encoding":{"x":{"field":"e","type":"quantitative"},"y":{"field":"v","type":"quantitative"},"detail":{"field":"k"},"color":{"datum":"S-3p"}}},
{"data":{"values":[{}]},"mark":{"type":"rule"},"encoding":{"x":{"datum":0}}}
]}
],"spacing":0,"bounds":"flush","resolve":{"scale":{"x":"independent","y":"independent","color":"independent"},"legend":{"color":"independent"}}},
{"vconcat":[
{"width":235,"height":125,"data":{"name":"D"},"layer":[
{"transform":[{"fold":["tu","td"],"as":["k","v"]}],"mark":{"type":"line","clip":true,"strokeWidth":1.1},"encoding":{"x":{"field":"e","type":"quantitative","scale":{"domain":[-3,2],"nice":false},"axis":{"title":null,"labels":false,"values":[-3,-2.5,-2,-1.5,-1,-0.5,0,0.5,1,1.5,2]}},"y":{"field":"v","type":"quantitative","scale":{"domain":[-90,90],"nice":false},"axis":{"title":null,"values":[-60,0,60],"labelExpr":"'' + datum.value"}},"detail":{"field":"k"},"color":{"datum":"Total DOS","scale":{"range":["#1e1e1e"]},"legend":{"title":null,"orient":"bottom-right","offset":9,"symbolSize":400}}}},
{"data":{"values":[{}]},"mark":{"type":"rule"},"encoding":{"x":{"datum":0}}},
{"data":{"values":[{"t":"Mo₁₅RhS₃₁-D"}]},"mark":{"type":"text"},"encoding":{"x":{"datum":0.98},"y":{"datum":59},"text":{"field":"t"}}}
]},
{"width":235,"height":125,"data":{"name":"D"},"layer":[
{"transform":[{"fold":["ru","rd"],"as":["k","v"]}],"mark":{"type":"line","clip":true,"strokeWidth":1},"encoding":{"x":{"field":"e","type":"quantitative","scale":{"domain":[-3,2],"nice":false},"axis":{"title":"Energy (eV)","titlePadding":2,"values":[-3,-2.5,-2,-1.5,-1,-0.5,0,0.5,1,1.5,2],"labelExpr":"datum.value % 1 === 0 ? '' + datum.value : ''"}},"y":{"field":"v","type":"quantitative","scale":{"domain":[-6,6],"nice":false},"axis":{"title":null,"values":[-4,0,4],"labelExpr":"'' + datum.value"}},"detail":{"field":"k"},"color":{"datum":"Rh-4d","scale":{"domain":["S-3p","Mo-4d","Rh-4d"],"range":["#ff2020","#2050ff","#55892a"]},"legend":{"title":null,"orient":"bottom-right","offset":3,"symbolSize":169}}}},
{"transform":[{"fold":["mu","md"],"as":["k","v"]}],"mark":{"type":"line","clip":true,"strokeWidth":1},"encoding":{"x":{"field":"e","type":"quantitative"},"y":{"field":"v","type":"quantitative"},"detail":{"field":"k"},"color":{"datum":"Mo-4d"}}},
{"transform":[{"fold":["su","sd"],"as":["k","v"]}],"mark":{"type":"line","clip":true,"strokeWidth":1},"encoding":{"x":{"field":"e","type":"quantitative"},"y":{"field":"v","type":"quantitative"},"detail":{"field":"k"},"color":{"datum":"S-3p"}}},
{"data":{"values":[{}]},"mark":{"type":"rule"},"encoding":{"x":{"datum":0}}}
]}
],"spacing":0,"bounds":"flush","resolve":{"scale":{"x":"independent","y":"independent","color":"independent"},"legend":{"color":"independent"}}},
{"vconcat":[
{"width":235,"height":125,"data":{"name":"E"},"layer":[
{"transform":[{"fold":["tu","td"],"as":["k","v"]}],"mark":{"type":"line","clip":true,"strokeWidth":1.1},"encoding":{"x":{"field":"e","type":"quantitative","scale":{"domain":[-3,2],"nice":false},"axis":{"title":null,"labels":false,"values":[-3,-2.5,-2,-1.5,-1,-0.5,0,0.5,1,1.5,2]}},"y":{"field":"v","type":"quantitative","scale":{"domain":[-90,90],"nice":false},"axis":{"title":null,"values":[-60,0,60],"labelExpr":"'' + datum.value"}},"detail":{"field":"k"},"color":{"datum":"Total DOS","scale":{"range":["#1e1e1e"]},"legend":{"title":null,"orient":"bottom-right","offset":9,"symbolSize":400}}}},
{"data":{"values":[{}]},"mark":{"type":"rule"},"encoding":{"x":{"datum":0}}},
{"data":{"values":[{"t":"Mo₁₅RhS₃₁-E"}]},"mark":{"type":"text"},"encoding":{"x":{"datum":0.96},"y":{"datum":59},"text":{"field":"t"}}}
]},
{"width":235,"height":125,"data":{"name":"E"},"layer":[
{"transform":[{"fold":["ru","rd"],"as":["k","v"]}],"mark":{"type":"line","clip":true,"strokeWidth":1},"encoding":{"x":{"field":"e","type":"quantitative","scale":{"domain":[-3,2],"nice":false},"axis":{"title":"Energy (eV)","titlePadding":2,"values":[-3,-2.5,-2,-1.5,-1,-0.5,0,0.5,1,1.5,2],"labelExpr":"datum.value % 1 === 0 ? '' + datum.value : ''"}},"y":{"field":"v","type":"quantitative","scale":{"domain":[-6,6],"nice":false},"axis":{"title":null,"values":[-4,0,4],"labelExpr":"'' + datum.value"}},"detail":{"field":"k"},"color":{"datum":"Rh-4d","scale":{"domain":["S-3p","Mo-4d","Rh-4d"],"range":["#ff2020","#2050ff","#55892a"]},"legend":{"title":null,"orient":"bottom-right","offset":3,"symbolSize":169}}}},
{"transform":[{"fold":["mu","md"],"as":["k","v"]}],"mark":{"type":"line","clip":true,"strokeWidth":1},"encoding":{"x":{"field":"e","type":"quantitative"},"y":{"field":"v","type":"quantitative"},"detail":{"field":"k"},"color":{"datum":"Mo-4d"}}},
{"transform":[{"fold":["su","sd"],"as":["k","v"]}],"mark":{"type":"line","clip":true,"strokeWidth":1},"encoding":{"x":{"field":"e","type":"quantitative"},"y":{"field":"v","type":"quantitative"},"detail":{"field":"k"},"color":{"datum":"S-3p"}}},
{"data":{"values":[{}]},"mark":{"type":"rule"},"encoding":{"x":{"datum":0}}}
]}
],"spacing":0,"bounds":"flush","resolve":{"scale":{"x":"independent","y":"independent","color":"independent"},"legend":{"color":"independent"}}}
],"spacing":7,"resolve":{"scale":{"x":"independent","y":"independent","color":"independent"},"legend":{"color":"independent"}}}
],
"spacing":44,
"resolve":{"scale":{"x":"independent","y":"independent","color":"independent"},"legend":{"color":"independent"}}
}
